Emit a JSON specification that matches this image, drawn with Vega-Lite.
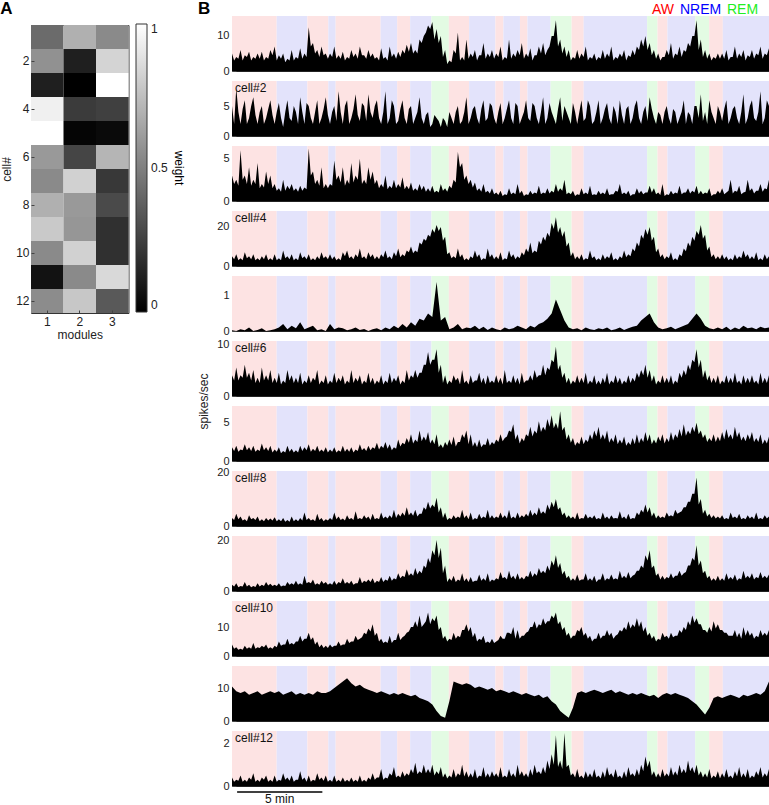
{
"$schema":"https://vega.github.io/schema/vega-lite/v6.json",
"padding":0,
"background":"white",
"datasets":{
"weights":[{"cell":1,"module":1,"w":0.42},{"cell":1,"module":2,"w":0.69},{"cell":1,"module":3,"w":0.54},{"cell":2,"module":1,"w":0.57},{"cell":2,"module":2,"w":0.12},{"cell":2,"module":3,"w":0.83},{"cell":3,"module":1,"w":0.12},{"cell":3,"module":2,"w":0.0},{"cell":3,"module":3,"w":1.0},{"cell":4,"module":1,"w":0.94},{"cell":4,"module":2,"w":0.23},{"cell":4,"module":3,"w":0.25},{"cell":5,"module":1,"w":1.0},{"cell":5,"module":2,"w":0.02},{"cell":5,"module":3,"w":0.04},{"cell":6,"module":1,"w":0.6},{"cell":6,"module":2,"w":0.27},{"cell":6,"module":3,"w":0.71},{"cell":7,"module":1,"w":0.54},{"cell":7,"module":2,"w":0.82},{"cell":7,"module":3,"w":0.22},{"cell":8,"module":1,"w":0.69},{"cell":8,"module":2,"w":0.6},{"cell":8,"module":3,"w":0.29},{"cell":9,"module":1,"w":0.79},{"cell":9,"module":2,"w":0.59},{"cell":9,"module":3,"w":0.19},{"cell":10,"module":1,"w":0.54},{"cell":10,"module":2,"w":0.82},{"cell":10,"module":3,"w":0.19},{"cell":11,"module":1,"w":0.07},{"cell":11,"module":2,"w":0.54},{"cell":11,"module":3,"w":0.85},{"cell":12,"module":1,"w":0.55},{"cell":12,"module":2,"w":0.78},{"cell":12,"module":3,"w":0.35}],
"states":[{"s":0,"e":2.62,"state":"AW"},{"s":2.62,"e":4.42,"state":"NREM"},{"s":4.42,"e":5.65,"state":"AW"},{"s":5.65,"e":6.08,"state":"NREM"},{"s":6.08,"e":8.72,"state":"AW"},{"s":8.72,"e":9.69,"state":"NREM"},{"s":9.69,"e":10.45,"state":"AW"},{"s":10.45,"e":11.7,"state":"NREM"},{"s":11.7,"e":12.72,"state":"REM"},{"s":12.72,"e":13.91,"state":"AW"},{"s":13.91,"e":15.45,"state":"NREM"},{"s":15.45,"e":15.92,"state":"AW"},{"s":15.92,"e":16.89,"state":"NREM"},{"s":16.89,"e":17.33,"state":"AW"},{"s":17.33,"e":18.69,"state":"NREM"},{"s":18.69,"e":19.92,"state":"REM"},{"s":19.92,"e":20.63,"state":"AW"},{"s":20.63,"e":24.35,"state":"NREM"},{"s":24.35,"e":24.96,"state":"REM"},{"s":24.96,"e":25.54,"state":"AW"},{"s":25.54,"e":27.17,"state":"NREM"},{"s":27.17,"e":27.99,"state":"REM"},{"s":27.99,"e":28.79,"state":"AW"},{"s":28.79,"e":31.5,"state":"NREM"}],
"c1":[{"t":0,"v":5},{"t":0.125,"v":3},{"t":0.25,"v":4},{"t":0.375,"v":3.5},{"t":0.5,"v":6},{"t":0.625,"v":3},{"t":0.75,"v":4.5},{"t":0.875,"v":4},{"t":1,"v":5.5},{"t":1.125,"v":3},{"t":1.25,"v":4},{"t":1.375,"v":3.5},{"t":1.5,"v":5},{"t":1.625,"v":3.5},{"t":1.75,"v":5.5},{"t":1.875,"v":3},{"t":2,"v":4},{"t":2.125,"v":3.5},{"t":2.25,"v":6},{"t":2.375,"v":4.5},{"t":2.5,"v":7},{"t":2.625,"v":3},{"t":2.75,"v":4.5},{"t":2.875,"v":3.5},{"t":3,"v":5},{"t":3.125,"v":2.5},{"t":3.25,"v":3.5},{"t":3.375,"v":3},{"t":3.5,"v":6},{"t":3.625,"v":3},{"t":3.75,"v":4},{"t":3.875,"v":3.5},{"t":4,"v":6.5},{"t":4.125,"v":3.5},{"t":4.25,"v":5},{"t":4.375,"v":4},{"t":4.5,"v":12.5},{"t":4.625,"v":7},{"t":4.75,"v":8},{"t":4.875,"v":5},{"t":5,"v":6},{"t":5.125,"v":4},{"t":5.25,"v":7},{"t":5.375,"v":4.5},{"t":5.5,"v":5},{"t":5.625,"v":3.5},{"t":5.75,"v":5},{"t":5.875,"v":4},{"t":6,"v":7},{"t":6.125,"v":3.5},{"t":6.25,"v":4.5},{"t":6.375,"v":3.5},{"t":6.5,"v":5.5},{"t":6.625,"v":3},{"t":6.75,"v":4},{"t":6.875,"v":3.5},{"t":7,"v":6},{"t":7.125,"v":4},{"t":7.25,"v":5},{"t":7.375,"v":3.5},{"t":7.5,"v":7},{"t":7.625,"v":4.5},{"t":7.75,"v":4.5},{"t":7.875,"v":3.5},{"t":8,"v":6},{"t":8.125,"v":4},{"t":8.25,"v":5},{"t":8.375,"v":3.5},{"t":8.5,"v":4},{"t":8.625,"v":3},{"t":8.75,"v":6.5},{"t":8.875,"v":3.5},{"t":9,"v":4},{"t":9.125,"v":3},{"t":9.25,"v":7},{"t":9.375,"v":4},{"t":9.5,"v":5},{"t":9.625,"v":3.5},{"t":9.75,"v":5.5},{"t":9.875,"v":4},{"t":10,"v":6},{"t":10.125,"v":5},{"t":10.25,"v":7.5},{"t":10.375,"v":5.5},{"t":10.5,"v":8},{"t":10.625,"v":5},{"t":10.75,"v":6},{"t":10.875,"v":5},{"t":11,"v":9},{"t":11.125,"v":8},{"t":11.25,"v":10},{"t":11.375,"v":11},{"t":11.5,"v":13},{"t":11.625,"v":12},{"t":11.75,"v":14},{"t":11.875,"v":9},{"t":12,"v":12},{"t":12.125,"v":8},{"t":12.25,"v":10},{"t":12.375,"v":4},{"t":12.5,"v":6},{"t":12.625,"v":2},{"t":12.75,"v":3},{"t":12.875,"v":2.5},{"t":13,"v":6},{"t":13.125,"v":5},{"t":13.25,"v":11},{"t":13.375,"v":3},{"t":13.5,"v":4},{"t":13.625,"v":3},{"t":13.75,"v":9},{"t":13.875,"v":3.5},{"t":14,"v":5},{"t":14.125,"v":4},{"t":14.25,"v":6},{"t":14.375,"v":3},{"t":14.5,"v":4.5},{"t":14.625,"v":4.5},{"t":14.75,"v":8},{"t":14.875,"v":3.5},{"t":15,"v":5},{"t":15.125,"v":4},{"t":15.25,"v":6},{"t":15.375,"v":3.5},{"t":15.5,"v":5},{"t":15.625,"v":4},{"t":15.75,"v":7},{"t":15.875,"v":3},{"t":16,"v":4},{"t":16.125,"v":3.5},{"t":16.25,"v":9},{"t":16.375,"v":3.5},{"t":16.5,"v":5},{"t":16.625,"v":4},{"t":16.75,"v":6},{"t":16.875,"v":4.5},{"t":17,"v":8},{"t":17.125,"v":3.5},{"t":17.25,"v":5},{"t":17.375,"v":4},{"t":17.5,"v":6.5},{"t":17.625,"v":3},{"t":17.75,"v":4.5},{"t":17.875,"v":4.5},{"t":18,"v":7},{"t":18.125,"v":5},{"t":18.25,"v":8},{"t":18.375,"v":4.5},{"t":18.5,"v":6},{"t":18.625,"v":7},{"t":18.75,"v":10},{"t":18.875,"v":10},{"t":19,"v":14.5},{"t":19.125,"v":7},{"t":19.25,"v":9},{"t":19.375,"v":5},{"t":19.5,"v":7},{"t":19.625,"v":4},{"t":19.75,"v":6},{"t":19.875,"v":3},{"t":20,"v":4},{"t":20.125,"v":3.5},{"t":20.25,"v":6},{"t":20.375,"v":3.5},{"t":20.5,"v":5},{"t":20.625,"v":4},{"t":20.75,"v":7},{"t":20.875,"v":3},{"t":21,"v":4},{"t":21.125,"v":3.5},{"t":21.25,"v":5},{"t":21.375,"v":3},{"t":21.5,"v":4},{"t":21.625,"v":3.5},{"t":21.75,"v":6},{"t":21.875,"v":3.5},{"t":22,"v":5},{"t":22.125,"v":4},{"t":22.25,"v":7},{"t":22.375,"v":3},{"t":22.5,"v":4},{"t":22.625,"v":3.5},{"t":22.75,"v":5},{"t":22.875,"v":4},{"t":23,"v":6},{"t":23.125,"v":3},{"t":23.25,"v":4.5},{"t":23.375,"v":4},{"t":23.5,"v":6},{"t":23.625,"v":4.5},{"t":23.75,"v":7},{"t":23.875,"v":6},{"t":24,"v":9},{"t":24.125,"v":7},{"t":24.25,"v":10},{"t":24.375,"v":6},{"t":24.5,"v":8},{"t":24.625,"v":4.5},{"t":24.75,"v":6},{"t":24.875,"v":3.5},{"t":25,"v":5},{"t":25.125,"v":3},{"t":25.25,"v":4},{"t":25.375,"v":4},{"t":25.5,"v":6},{"t":25.625,"v":4.5},{"t":25.75,"v":8},{"t":25.875,"v":3.5},{"t":26,"v":5},{"t":26.125,"v":4.5},{"t":26.25,"v":7},{"t":26.375,"v":4},{"t":26.5,"v":6},{"t":26.625,"v":5.5},{"t":26.75,"v":8},{"t":26.875,"v":7},{"t":27,"v":10},{"t":27.125,"v":10},{"t":27.25,"v":14.5},{"t":27.375,"v":6},{"t":27.5,"v":9},{"t":27.625,"v":4},{"t":27.75,"v":6},{"t":27.875,"v":3.5},{"t":28,"v":5},{"t":28.125,"v":3},{"t":28.25,"v":4},{"t":28.375,"v":3.5},{"t":28.5,"v":5},{"t":28.625,"v":3.5},{"t":28.75,"v":5},{"t":28.875,"v":3.5},{"t":29,"v":6},{"t":29.125,"v":3},{"t":29.25,"v":4},{"t":29.375,"v":4},{"t":29.5,"v":7},{"t":29.625,"v":3.5},{"t":29.75,"v":5},{"t":29.875,"v":4},{"t":30,"v":6},{"t":30.125,"v":3},{"t":30.25,"v":4.5},{"t":30.375,"v":4},{"t":30.5,"v":6},{"t":30.625,"v":3.5},{"t":30.75,"v":5},{"t":30.875,"v":4.5},{"t":31,"v":7},{"t":31.125,"v":3.5},{"t":31.25,"v":5},{"t":31.375,"v":4.5},{"t":31.5,"v":6.5}],
"c2":[{"t":0,"v":5},{"t":0.125,"v":2},{"t":0.25,"v":8},{"t":0.375,"v":4},{"t":0.5,"v":2},{"t":0.625,"v":4.5},{"t":0.75,"v":6},{"t":0.875,"v":2},{"t":1,"v":3},{"t":1.125,"v":5},{"t":1.25,"v":6.5},{"t":1.375,"v":3.5},{"t":1.5,"v":2},{"t":1.625,"v":4},{"t":1.75,"v":5},{"t":1.875,"v":2},{"t":2,"v":3},{"t":2.125,"v":4.5},{"t":2.25,"v":6},{"t":2.375,"v":3.5},{"t":2.5,"v":2},{"t":2.625,"v":4},{"t":2.75,"v":5.5},{"t":2.875,"v":3},{"t":3,"v":1.5},{"t":3.125,"v":4},{"t":3.25,"v":6},{"t":3.375,"v":3},{"t":3.5,"v":2.5},{"t":3.625,"v":5},{"t":3.75,"v":4},{"t":3.875,"v":2},{"t":4,"v":6.5},{"t":4.125,"v":4},{"t":4.25,"v":2},{"t":4.375,"v":5.5},{"t":4.5,"v":5},{"t":4.625,"v":3},{"t":4.75,"v":2},{"t":4.875,"v":4},{"t":5,"v":6},{"t":5.125,"v":2},{"t":5.25,"v":3},{"t":5.375,"v":4.5},{"t":5.5,"v":6.5},{"t":5.625,"v":3.5},{"t":5.75,"v":2},{"t":5.875,"v":4},{"t":6,"v":5},{"t":6.125,"v":2.5},{"t":6.25,"v":7.5},{"t":6.375,"v":4},{"t":6.5,"v":2},{"t":6.625,"v":5},{"t":6.75,"v":6},{"t":6.875,"v":2},{"t":7,"v":3},{"t":7.125,"v":4.5},{"t":7.25,"v":7},{"t":7.375,"v":3.5},{"t":7.5,"v":2.5},{"t":7.625,"v":5.5},{"t":7.75,"v":5},{"t":7.875,"v":2.5},{"t":8,"v":7},{"t":8.125,"v":4},{"t":8.25,"v":3},{"t":8.375,"v":5},{"t":8.5,"v":6},{"t":8.625,"v":3},{"t":8.75,"v":2},{"t":8.875,"v":4},{"t":9,"v":7.5},{"t":9.125,"v":2},{"t":9.25,"v":3},{"t":9.375,"v":6},{"t":9.5,"v":5},{"t":9.625,"v":2},{"t":9.75,"v":2.5},{"t":9.875,"v":4.5},{"t":10,"v":6},{"t":10.125,"v":3},{"t":10.25,"v":2},{"t":10.375,"v":4.5},{"t":10.5,"v":5},{"t":10.625,"v":2},{"t":10.75,"v":3},{"t":10.875,"v":4},{"t":11,"v":6.5},{"t":11.125,"v":3},{"t":11.25,"v":2},{"t":11.375,"v":3.5},{"t":11.5,"v":4},{"t":11.625,"v":1.5},{"t":11.75,"v":2},{"t":11.875,"v":3.5},{"t":12,"v":3},{"t":12.125,"v":2.5},{"t":12.25,"v":1.5},{"t":12.375,"v":3},{"t":12.5,"v":2.5},{"t":12.625,"v":1.5},{"t":12.75,"v":4},{"t":12.875,"v":3},{"t":13,"v":2},{"t":13.125,"v":4},{"t":13.25,"v":5},{"t":13.375,"v":2},{"t":13.5,"v":2.5},{"t":13.625,"v":4},{"t":13.75,"v":6.5},{"t":13.875,"v":2},{"t":14,"v":3},{"t":14.125,"v":4.5},{"t":14.25,"v":5},{"t":14.375,"v":3},{"t":14.5,"v":2},{"t":14.625,"v":4.5},{"t":14.75,"v":6},{"t":14.875,"v":2.5},{"t":15,"v":3},{"t":15.125,"v":5.5},{"t":15.25,"v":5},{"t":15.375,"v":3},{"t":15.5,"v":2},{"t":15.625,"v":4},{"t":15.75,"v":5.5},{"t":15.875,"v":2},{"t":16,"v":3},{"t":16.125,"v":4.5},{"t":16.25,"v":6},{"t":16.375,"v":3},{"t":16.5,"v":2},{"t":16.625,"v":5.5},{"t":16.75,"v":5},{"t":16.875,"v":2},{"t":17,"v":3},{"t":17.125,"v":4},{"t":17.25,"v":6},{"t":17.375,"v":3},{"t":17.5,"v":2.5},{"t":17.625,"v":5.5},{"t":17.75,"v":5},{"t":17.875,"v":3},{"t":18,"v":2},{"t":18.125,"v":4},{"t":18.25,"v":6.5},{"t":18.375,"v":2},{"t":18.5,"v":3},{"t":18.625,"v":5.5},{"t":18.75,"v":4},{"t":18.875,"v":3},{"t":19,"v":2},{"t":19.125,"v":4.5},{"t":19.25,"v":6.5},{"t":19.375,"v":2.5},{"t":19.5,"v":5},{"t":19.625,"v":4},{"t":19.75,"v":3},{"t":19.875,"v":2},{"t":20,"v":5.5},{"t":20.125,"v":4},{"t":20.25,"v":2},{"t":20.375,"v":4},{"t":20.5,"v":6},{"t":20.625,"v":2.5},{"t":20.75,"v":3},{"t":20.875,"v":6},{"t":21,"v":5},{"t":21.125,"v":2},{"t":21.25,"v":2.5},{"t":21.375,"v":4},{"t":21.5,"v":6},{"t":21.625,"v":2},{"t":21.75,"v":3},{"t":21.875,"v":4.5},{"t":22,"v":5.5},{"t":22.125,"v":3},{"t":22.25,"v":2},{"t":22.375,"v":5},{"t":22.5,"v":4},{"t":22.625,"v":2},{"t":22.75,"v":6},{"t":22.875,"v":3.5},{"t":23,"v":2},{"t":23.125,"v":4.5},{"t":23.25,"v":5},{"t":23.375,"v":2},{"t":23.5,"v":3},{"t":23.625,"v":5},{"t":23.75,"v":6},{"t":23.875,"v":3},{"t":24,"v":2},{"t":24.125,"v":4},{"t":24.25,"v":5},{"t":24.375,"v":2.5},{"t":24.5,"v":6.5},{"t":24.625,"v":4.5},{"t":24.75,"v":3},{"t":24.875,"v":2},{"t":25,"v":4},{"t":25.125,"v":3.5},{"t":25.25,"v":2},{"t":25.375,"v":4},{"t":25.5,"v":5},{"t":25.625,"v":3},{"t":25.75,"v":2},{"t":25.875,"v":4.5},{"t":26,"v":4},{"t":26.125,"v":2},{"t":26.25,"v":3},{"t":26.375,"v":4},{"t":26.5,"v":6},{"t":26.625,"v":2},{"t":26.75,"v":4},{"t":26.875,"v":3.5},{"t":27,"v":2},{"t":27.125,"v":5},{"t":27.25,"v":5},{"t":27.375,"v":3},{"t":27.5,"v":7},{"t":27.625,"v":2.5},{"t":27.75,"v":4},{"t":27.875,"v":2},{"t":28,"v":6},{"t":28.125,"v":4},{"t":28.25,"v":3},{"t":28.375,"v":2},{"t":28.5,"v":5},{"t":28.625,"v":4},{"t":28.75,"v":2.5},{"t":28.875,"v":4.5},{"t":29,"v":6},{"t":29.125,"v":2},{"t":29.25,"v":3},{"t":29.375,"v":4.5},{"t":29.5,"v":5},{"t":29.625,"v":3},{"t":29.75,"v":2},{"t":29.875,"v":4},{"t":30,"v":7},{"t":30.125,"v":2},{"t":30.25,"v":3},{"t":30.375,"v":5},{"t":30.5,"v":6},{"t":30.625,"v":3},{"t":30.75,"v":2.5},{"t":30.875,"v":4},{"t":31,"v":7.5},{"t":31.125,"v":2},{"t":31.25,"v":3},{"t":31.375,"v":6},{"t":31.5,"v":5}],
"c3":[{"t":0,"v":3},{"t":0.125,"v":2},{"t":0.25,"v":2.5},{"t":0.375,"v":1.8},{"t":0.5,"v":6},{"t":0.625,"v":2.5},{"t":0.75,"v":3},{"t":0.875,"v":2},{"t":1,"v":4},{"t":1.125,"v":1.8},{"t":1.25,"v":2.5},{"t":1.375,"v":2},{"t":1.5,"v":4.5},{"t":1.625,"v":1.5},{"t":1.75,"v":2},{"t":1.875,"v":1.6},{"t":2,"v":3.5},{"t":2.125,"v":2},{"t":2.25,"v":3},{"t":2.375,"v":1.5},{"t":2.5,"v":2},{"t":2.625,"v":1.2},{"t":2.75,"v":1.5},{"t":2.875,"v":1.1},{"t":3,"v":2.5},{"t":3.125,"v":1.2},{"t":3.25,"v":1.8},{"t":3.375,"v":1.4},{"t":3.5,"v":2},{"t":3.625,"v":1.2},{"t":3.75,"v":1.5},{"t":3.875,"v":1.1},{"t":4,"v":1.8},{"t":4.125,"v":1.2},{"t":4.25,"v":1.6},{"t":4.375,"v":1.4},{"t":4.5,"v":6.2},{"t":4.625,"v":3},{"t":4.75,"v":3.5},{"t":4.875,"v":2},{"t":5,"v":2.5},{"t":5.125,"v":1.8},{"t":5.25,"v":4},{"t":5.375,"v":1.5},{"t":5.5,"v":2},{"t":5.625,"v":1.5},{"t":5.75,"v":2},{"t":5.875,"v":1.8},{"t":6,"v":4.8},{"t":6.125,"v":2.5},{"t":6.25,"v":3},{"t":6.375,"v":2.2},{"t":6.5,"v":4},{"t":6.625,"v":1.8},{"t":6.75,"v":2.5},{"t":6.875,"v":2},{"t":7,"v":4.5},{"t":7.125,"v":2.2},{"t":7.25,"v":3},{"t":7.375,"v":2.5},{"t":7.5,"v":5},{"t":7.625,"v":2},{"t":7.75,"v":2.5},{"t":7.875,"v":2},{"t":8,"v":4},{"t":8.125,"v":2.5},{"t":8.25,"v":3.5},{"t":8.375,"v":2},{"t":8.5,"v":2.5},{"t":8.625,"v":1.5},{"t":8.75,"v":2},{"t":8.875,"v":1.6},{"t":9,"v":3},{"t":9.125,"v":1.4},{"t":9.25,"v":1.8},{"t":9.375,"v":1.5},{"t":9.5,"v":2.5},{"t":9.625,"v":1.5},{"t":9.75,"v":2},{"t":9.875,"v":1.6},{"t":10,"v":2.8},{"t":10.125,"v":1.4},{"t":10.25,"v":1.8},{"t":10.375,"v":1.4},{"t":10.5,"v":2.2},{"t":10.625,"v":1.2},{"t":10.75,"v":1.5},{"t":10.875,"v":1.2},{"t":11,"v":2},{"t":11.125,"v":1.3},{"t":11.25,"v":1.8},{"t":11.375,"v":1.1},{"t":11.5,"v":1.5},{"t":11.625,"v":1.1},{"t":11.75,"v":1.8},{"t":11.875,"v":1},{"t":12,"v":1.2},{"t":12.125,"v":1},{"t":12.25,"v":2},{"t":12.375,"v":1.2},{"t":12.5,"v":1.5},{"t":12.625,"v":1.1},{"t":12.75,"v":1.8},{"t":12.875,"v":1.5},{"t":13,"v":2.5},{"t":13.125,"v":2.2},{"t":13.25,"v":5.8},{"t":13.375,"v":4},{"t":13.5,"v":4.5},{"t":13.625,"v":2.5},{"t":13.75,"v":3},{"t":13.875,"v":2},{"t":14,"v":2.5},{"t":14.125,"v":1.6},{"t":14.25,"v":2.2},{"t":14.375,"v":1.2},{"t":14.5,"v":1.5},{"t":14.625,"v":1.1},{"t":14.75,"v":2},{"t":14.875,"v":1},{"t":15,"v":1.2},{"t":15.125,"v":0.9},{"t":15.25,"v":1.5},{"t":15.375,"v":0.8},{"t":15.5,"v":1},{"t":15.625,"v":0.7},{"t":15.75,"v":1.2},{"t":15.875,"v":0.6},{"t":16,"v":0.8},{"t":16.125,"v":0.7},{"t":16.25,"v":1.5},{"t":16.375,"v":0.8},{"t":16.5,"v":1},{"t":16.625,"v":0.8},{"t":16.75,"v":2},{"t":16.875,"v":0.9},{"t":17,"v":1.2},{"t":17.125,"v":0.6},{"t":17.25,"v":0.8},{"t":17.375,"v":0.7},{"t":17.5,"v":1.2},{"t":17.625,"v":0.8},{"t":17.75,"v":1},{"t":17.875,"v":0.9},{"t":18,"v":1.8},{"t":18.125,"v":0.8},{"t":18.25,"v":1},{"t":18.375,"v":0.9},{"t":18.5,"v":1.5},{"t":18.625,"v":0.9},{"t":18.75,"v":1.2},{"t":18.875,"v":1},{"t":19,"v":2},{"t":19.125,"v":1.1},{"t":19.25,"v":1.5},{"t":19.375,"v":1.2},{"t":19.5,"v":2.5},{"t":19.625,"v":0.8},{"t":19.75,"v":1},{"t":19.875,"v":0.8},{"t":20,"v":1.2},{"t":20.125,"v":0.6},{"t":20.25,"v":0.8},{"t":20.375,"v":0.7},{"t":20.5,"v":1.5},{"t":20.625,"v":0.8},{"t":20.75,"v":1},{"t":20.875,"v":0.8},{"t":21,"v":1.8},{"t":21.125,"v":0.7},{"t":21.25,"v":0.8},{"t":21.375,"v":0.7},{"t":21.5,"v":1.2},{"t":21.625,"v":0.8},{"t":21.75,"v":1},{"t":21.875,"v":0.8},{"t":22,"v":1.5},{"t":22.125,"v":0.7},{"t":22.25,"v":0.8},{"t":22.375,"v":0.8},{"t":22.5,"v":1.2},{"t":22.625,"v":1.1},{"t":22.75,"v":2},{"t":22.875,"v":0.8},{"t":23,"v":1},{"t":23.125,"v":0.8},{"t":23.25,"v":1.2},{"t":23.375,"v":0.6},{"t":23.5,"v":0.8},{"t":23.625,"v":0.8},{"t":23.75,"v":1.5},{"t":23.875,"v":0.9},{"t":24,"v":1.2},{"t":24.125,"v":0.8},{"t":24.25,"v":1},{"t":24.375,"v":1},{"t":24.5,"v":1.8},{"t":24.625,"v":1},{"t":24.75,"v":1.5},{"t":24.875,"v":0.8},{"t":25,"v":1},{"t":25.125,"v":0.7},{"t":25.25,"v":2},{"t":25.375,"v":0.6},{"t":25.5,"v":0.8},{"t":25.625,"v":0.7},{"t":25.75,"v":1.2},{"t":25.875,"v":0.8},{"t":26,"v":1},{"t":26.125,"v":0.9},{"t":26.25,"v":1.8},{"t":26.375,"v":0.8},{"t":26.5,"v":1},{"t":26.625,"v":1},{"t":26.75,"v":1.5},{"t":26.875,"v":0.9},{"t":27,"v":1.2},{"t":27.125,"v":1},{"t":27.25,"v":1.8},{"t":27.375,"v":0.8},{"t":27.5,"v":1.2},{"t":27.625,"v":0.8},{"t":27.75,"v":1},{"t":27.875,"v":0.9},{"t":28,"v":1.5},{"t":28.125,"v":0.6},{"t":28.25,"v":0.8},{"t":28.375,"v":0.8},{"t":28.5,"v":1.2},{"t":28.625,"v":0.9},{"t":28.75,"v":1.5},{"t":28.875,"v":0.8},{"t":29,"v":1},{"t":29.125,"v":1.2},{"t":29.25,"v":2.5},{"t":29.375,"v":0.9},{"t":29.5,"v":1.2},{"t":29.625,"v":1.1},{"t":29.75,"v":1.8},{"t":29.875,"v":0.8},{"t":30,"v":1},{"t":30.125,"v":1.1},{"t":30.25,"v":2.5},{"t":30.375,"v":1.2},{"t":30.5,"v":1.5},{"t":30.625,"v":0.9},{"t":30.75,"v":1.2},{"t":30.875,"v":1.2},{"t":31,"v":2},{"t":31.125,"v":1.1},{"t":31.25,"v":1.5},{"t":31.375,"v":1.4},{"t":31.5,"v":2.5}],
"c4":[{"t":0,"v":5},{"t":0.125,"v":3.5},{"t":0.25,"v":6},{"t":0.375,"v":3},{"t":0.5,"v":4},{"t":0.625,"v":3},{"t":0.75,"v":7},{"t":0.875,"v":4},{"t":1,"v":5},{"t":1.125,"v":3.5},{"t":1.25,"v":6},{"t":1.375,"v":3},{"t":1.5,"v":4},{"t":1.625,"v":3},{"t":1.75,"v":5},{"t":1.875,"v":3.5},{"t":2,"v":6},{"t":2.125,"v":3},{"t":2.25,"v":4},{"t":2.375,"v":3},{"t":2.5,"v":6},{"t":2.625,"v":3},{"t":2.75,"v":4},{"t":2.875,"v":3},{"t":3,"v":8},{"t":3.125,"v":4},{"t":3.25,"v":5},{"t":3.375,"v":3.5},{"t":3.5,"v":6},{"t":3.625,"v":3},{"t":3.75,"v":4},{"t":3.875,"v":3},{"t":4,"v":7},{"t":4.125,"v":4},{"t":4.25,"v":5},{"t":4.375,"v":3.5},{"t":4.5,"v":6},{"t":4.625,"v":3},{"t":4.75,"v":4},{"t":4.875,"v":3},{"t":5,"v":5},{"t":5.125,"v":3.5},{"t":5.25,"v":7},{"t":5.375,"v":4},{"t":5.5,"v":5},{"t":5.625,"v":3.5},{"t":5.75,"v":6},{"t":5.875,"v":3.5},{"t":6,"v":5},{"t":6.125,"v":3},{"t":6.25,"v":4},{"t":6.375,"v":3},{"t":6.5,"v":7},{"t":6.625,"v":5},{"t":6.75,"v":8},{"t":6.875,"v":4},{"t":7,"v":5},{"t":7.125,"v":3.5},{"t":7.25,"v":6},{"t":7.375,"v":4.5},{"t":7.5,"v":9},{"t":7.625,"v":4},{"t":7.75,"v":5},{"t":7.875,"v":3.5},{"t":8,"v":7},{"t":8.125,"v":4.5},{"t":8.25,"v":6},{"t":8.375,"v":3.5},{"t":8.5,"v":5},{"t":8.625,"v":3.5},{"t":8.75,"v":6},{"t":8.875,"v":4.5},{"t":9,"v":8},{"t":9.125,"v":4},{"t":9.25,"v":5},{"t":9.375,"v":3.5},{"t":9.5,"v":7},{"t":9.625,"v":5},{"t":9.75,"v":9},{"t":9.875,"v":4.5},{"t":10,"v":6},{"t":10.125,"v":5},{"t":10.25,"v":8},{"t":10.375,"v":7},{"t":10.5,"v":10},{"t":10.625,"v":6.5},{"t":10.75,"v":8},{"t":10.875,"v":7},{"t":11,"v":12},{"t":11.125,"v":11},{"t":11.25,"v":14},{"t":11.375,"v":13},{"t":11.5,"v":16},{"t":11.625,"v":15},{"t":11.75,"v":19},{"t":11.875,"v":17},{"t":12,"v":21},{"t":12.125,"v":18},{"t":12.25,"v":20},{"t":12.375,"v":13},{"t":12.5,"v":15},{"t":12.625,"v":6},{"t":12.75,"v":7},{"t":12.875,"v":4},{"t":13,"v":5},{"t":13.125,"v":4},{"t":13.25,"v":9},{"t":13.375,"v":4.5},{"t":13.5,"v":6},{"t":13.625,"v":3},{"t":13.75,"v":4},{"t":13.875,"v":3},{"t":14,"v":5},{"t":14.125,"v":4},{"t":14.25,"v":8},{"t":14.375,"v":4.5},{"t":14.5,"v":6},{"t":14.625,"v":3},{"t":14.75,"v":4},{"t":14.875,"v":3.5},{"t":15,"v":9},{"t":15.125,"v":4.5},{"t":15.25,"v":6},{"t":15.375,"v":3.5},{"t":15.5,"v":5},{"t":15.625,"v":3.5},{"t":15.75,"v":7},{"t":15.875,"v":3},{"t":16,"v":4},{"t":16.125,"v":3.5},{"t":16.25,"v":8},{"t":16.375,"v":4.5},{"t":16.5,"v":6},{"t":16.625,"v":3.5},{"t":16.75,"v":5},{"t":16.875,"v":4},{"t":17,"v":7},{"t":17.125,"v":5.5},{"t":17.25,"v":9},{"t":17.375,"v":7},{"t":17.5,"v":12},{"t":17.625,"v":6.5},{"t":17.75,"v":8},{"t":17.875,"v":7},{"t":18,"v":13},{"t":18.125,"v":11},{"t":18.25,"v":15},{"t":18.375,"v":13},{"t":18.5,"v":17},{"t":18.625,"v":15},{"t":18.75,"v":22},{"t":18.875,"v":19},{"t":19,"v":25},{"t":19.125,"v":17},{"t":19.25,"v":20},{"t":19.375,"v":15},{"t":19.5,"v":18},{"t":19.625,"v":10},{"t":19.75,"v":12},{"t":19.875,"v":5},{"t":20,"v":7},{"t":20.125,"v":3.5},{"t":20.25,"v":5},{"t":20.375,"v":3.5},{"t":20.5,"v":6},{"t":20.625,"v":3},{"t":20.75,"v":4},{"t":20.875,"v":3.5},{"t":21,"v":8},{"t":21.125,"v":4},{"t":21.25,"v":5},{"t":21.375,"v":3},{"t":21.5,"v":4},{"t":21.625,"v":3},{"t":21.75,"v":6},{"t":21.875,"v":3.5},{"t":22,"v":5},{"t":22.125,"v":4},{"t":22.25,"v":7},{"t":22.375,"v":3},{"t":22.5,"v":4},{"t":22.625,"v":3},{"t":22.75,"v":5},{"t":22.875,"v":4},{"t":23,"v":8},{"t":23.125,"v":4.5},{"t":23.25,"v":6},{"t":23.375,"v":5},{"t":23.5,"v":9},{"t":23.625,"v":7.5},{"t":23.75,"v":12},{"t":23.875,"v":10},{"t":24,"v":16},{"t":24.125,"v":14},{"t":24.25,"v":19},{"t":24.375,"v":16},{"t":24.5,"v":20},{"t":24.625,"v":13},{"t":24.75,"v":15},{"t":24.875,"v":7},{"t":25,"v":9},{"t":25.125,"v":4.5},{"t":25.25,"v":6},{"t":25.375,"v":3.5},{"t":25.5,"v":5},{"t":25.625,"v":4},{"t":25.75,"v":7},{"t":25.875,"v":3},{"t":26,"v":4},{"t":26.125,"v":3},{"t":26.25,"v":6},{"t":26.375,"v":5},{"t":26.5,"v":9},{"t":26.625,"v":7.5},{"t":26.75,"v":12},{"t":26.875,"v":10},{"t":27,"v":15},{"t":27.125,"v":13},{"t":27.25,"v":18},{"t":27.375,"v":16},{"t":27.5,"v":21},{"t":27.625,"v":14},{"t":27.75,"v":16},{"t":27.875,"v":8},{"t":28,"v":10},{"t":28.125,"v":4.5},{"t":28.25,"v":6},{"t":28.375,"v":3.5},{"t":28.5,"v":5},{"t":28.625,"v":3.5},{"t":28.75,"v":6},{"t":28.875,"v":3.5},{"t":29,"v":5},{"t":29.125,"v":3},{"t":29.25,"v":4},{"t":29.375,"v":3},{"t":29.5,"v":6},{"t":29.625,"v":3.5},{"t":29.75,"v":5},{"t":29.875,"v":4},{"t":30,"v":8},{"t":30.125,"v":4.5},{"t":30.25,"v":6},{"t":30.375,"v":3.5},{"t":30.5,"v":5},{"t":30.625,"v":3.5},{"t":30.75,"v":7},{"t":30.875,"v":3},{"t":31,"v":4},{"t":31.125,"v":3},{"t":31.25,"v":6},{"t":31.375,"v":3.5},{"t":31.5,"v":5}],
"c5":[{"t":0,"v":0.02},{"t":0.25,"v":0},{"t":0.5,"v":0.05},{"t":0.75,"v":0.02},{"t":1,"v":0.1},{"t":1.25,"v":0},{"t":1.5,"v":0.03},{"t":1.75,"v":0.08},{"t":2,"v":0},{"t":2.25,"v":0.02},{"t":2.5,"v":0.05},{"t":2.75,"v":0.1},{"t":3,"v":0.2},{"t":3.25,"v":0.05},{"t":3.5,"v":0.15},{"t":3.75,"v":0.08},{"t":4,"v":0.25},{"t":4.25,"v":0.05},{"t":4.5,"v":0.1},{"t":4.75,"v":0.15},{"t":5,"v":0.02},{"t":5.25,"v":0.05},{"t":5.5,"v":0},{"t":5.75,"v":0.2},{"t":6,"v":0.05},{"t":6.25,"v":0.1},{"t":6.5,"v":0.08},{"t":6.75,"v":0.02},{"t":7,"v":0.05},{"t":7.25,"v":0.1},{"t":7.5,"v":0.03},{"t":7.75,"v":0.06},{"t":8,"v":0},{"t":8.25,"v":0.05},{"t":8.5,"v":0.08},{"t":8.75,"v":0.02},{"t":9,"v":0.1},{"t":9.25,"v":0.05},{"t":9.5,"v":0.15},{"t":9.75,"v":0.08},{"t":10,"v":0.2},{"t":10.25,"v":0.1},{"t":10.5,"v":0.25},{"t":10.75,"v":0.15},{"t":11,"v":0.35},{"t":11.25,"v":0.3},{"t":11.5,"v":0.5},{"t":11.75,"v":0.4},{"t":12,"v":1.4},{"t":12.25,"v":0.3},{"t":12.5,"v":0.4},{"t":12.75,"v":0.05},{"t":13,"v":0.1},{"t":13.25,"v":0.2},{"t":13.5,"v":0.05},{"t":13.75,"v":0.1},{"t":14,"v":0.08},{"t":14.25,"v":0.15},{"t":14.5,"v":0.05},{"t":14.75,"v":0.12},{"t":15,"v":0.03},{"t":15.25,"v":0.1},{"t":15.5,"v":0.05},{"t":15.75,"v":0.02},{"t":16,"v":0.1},{"t":16.25,"v":0.05},{"t":16.5,"v":0.08},{"t":16.75,"v":0.15},{"t":17,"v":0.1},{"t":17.25,"v":0.05},{"t":17.5,"v":0.15},{"t":17.75,"v":0.1},{"t":18,"v":0.2},{"t":18.25,"v":0.25},{"t":18.5,"v":0.35},{"t":18.75,"v":0.5},{"t":19,"v":0.9},{"t":19.25,"v":0.6},{"t":19.5,"v":0.3},{"t":19.75,"v":0.1},{"t":20,"v":0.05},{"t":20.25,"v":0.08},{"t":20.5,"v":0.02},{"t":20.75,"v":0.1},{"t":21,"v":0.05},{"t":21.25,"v":0.03},{"t":21.5,"v":0.08},{"t":21.75,"v":0.05},{"t":22,"v":0.1},{"t":22.25,"v":0.02},{"t":22.5,"v":0.05},{"t":22.75,"v":0.1},{"t":23,"v":0.03},{"t":23.25,"v":0.08},{"t":23.5,"v":0.12},{"t":23.75,"v":0.15},{"t":24,"v":0.3},{"t":24.25,"v":0.4},{"t":24.5,"v":0.5},{"t":24.75,"v":0.25},{"t":25,"v":0.1},{"t":25.25,"v":0.05},{"t":25.5,"v":0.08},{"t":25.75,"v":0.12},{"t":26,"v":0.05},{"t":26.25,"v":0.1},{"t":26.5,"v":0.15},{"t":26.75,"v":0.2},{"t":27,"v":0.35},{"t":27.25,"v":0.5},{"t":27.5,"v":0.35},{"t":27.75,"v":0.15},{"t":28,"v":0.08},{"t":28.25,"v":0.05},{"t":28.5,"v":0.1},{"t":28.75,"v":0.05},{"t":29,"v":0.12},{"t":29.25,"v":0.03},{"t":29.5,"v":0.1},{"t":29.75,"v":0.05},{"t":30,"v":0.15},{"t":30.25,"v":0.08},{"t":30.5,"v":0.1},{"t":30.75,"v":0.05},{"t":31,"v":0.12},{"t":31.25,"v":0.08},{"t":31.5,"v":0.1}],
"c6":[{"t":0,"v":4},{"t":0.125,"v":3},{"t":0.25,"v":5.5},{"t":0.375,"v":3},{"t":0.5,"v":4},{"t":0.625,"v":3.5},{"t":0.75,"v":6},{"t":0.875,"v":3.5},{"t":1,"v":4.5},{"t":1.125,"v":3},{"t":1.25,"v":5},{"t":1.375,"v":2.5},{"t":1.5,"v":3.5},{"t":1.625,"v":2.5},{"t":1.75,"v":5.5},{"t":1.875,"v":3},{"t":2,"v":4},{"t":2.125,"v":3},{"t":2.25,"v":5},{"t":2.375,"v":2.5},{"t":2.5,"v":3.5},{"t":2.625,"v":2.5},{"t":2.75,"v":4.5},{"t":2.875,"v":2.2},{"t":3,"v":3},{"t":3.125,"v":2.5},{"t":3.25,"v":5},{"t":3.375,"v":3},{"t":3.5,"v":4},{"t":3.625,"v":2.5},{"t":3.75,"v":3.5},{"t":3.875,"v":2.5},{"t":4,"v":4.5},{"t":4.125,"v":2.2},{"t":4.25,"v":3},{"t":4.375,"v":2.5},{"t":4.5,"v":4},{"t":4.625,"v":2.5},{"t":4.75,"v":3.5},{"t":4.875,"v":3},{"t":5,"v":5},{"t":5.125,"v":2.2},{"t":5.25,"v":3},{"t":5.375,"v":2.5},{"t":5.5,"v":4},{"t":5.625,"v":2.2},{"t":5.75,"v":3},{"t":5.875,"v":2.5},{"t":6,"v":4.5},{"t":6.125,"v":2.5},{"t":6.25,"v":3.5},{"t":6.375,"v":2.8},{"t":6.5,"v":4},{"t":6.625,"v":2.2},{"t":6.75,"v":3},{"t":6.875,"v":2.5},{"t":7,"v":5},{"t":7.125,"v":2.5},{"t":7.25,"v":3.5},{"t":7.375,"v":2.8},{"t":7.5,"v":4},{"t":7.625,"v":2.2},{"t":7.75,"v":3},{"t":7.875,"v":2.5},{"t":8,"v":4.5},{"t":8.125,"v":2.5},{"t":8.25,"v":3.5},{"t":8.375,"v":2.2},{"t":8.5,"v":3},{"t":8.625,"v":2.5},{"t":8.75,"v":4},{"t":8.875,"v":2.2},{"t":9,"v":3},{"t":9.125,"v":2.5},{"t":9.25,"v":4.5},{"t":9.375,"v":2.5},{"t":9.5,"v":3.5},{"t":9.625,"v":2.8},{"t":9.75,"v":4},{"t":9.875,"v":2.2},{"t":10,"v":3},{"t":10.125,"v":2.5},{"t":10.25,"v":5},{"t":10.375,"v":3},{"t":10.5,"v":4},{"t":10.625,"v":3.5},{"t":10.75,"v":5},{"t":10.875,"v":3.5},{"t":11,"v":4.5},{"t":11.125,"v":4.5},{"t":11.25,"v":6},{"t":11.375,"v":6},{"t":11.5,"v":8.5},{"t":11.625,"v":6},{"t":11.75,"v":7},{"t":11.875,"v":7},{"t":12,"v":9},{"t":12.125,"v":4.5},{"t":12.25,"v":6},{"t":12.375,"v":2.5},{"t":12.5,"v":4},{"t":12.625,"v":2.2},{"t":12.75,"v":3},{"t":12.875,"v":2.5},{"t":13,"v":4},{"t":13.125,"v":3},{"t":13.25,"v":3.5},{"t":13.375,"v":2.2},{"t":13.5,"v":5},{"t":13.625,"v":2.5},{"t":13.75,"v":3},{"t":13.875,"v":2.2},{"t":14,"v":4},{"t":14.125,"v":2.5},{"t":14.25,"v":3},{"t":14.375,"v":3},{"t":14.5,"v":4.5},{"t":14.625,"v":2.5},{"t":14.75,"v":3.5},{"t":14.875,"v":2.2},{"t":15,"v":4},{"t":15.125,"v":2.5},{"t":15.25,"v":3},{"t":15.375,"v":2.5},{"t":15.5,"v":4},{"t":15.625,"v":2.5},{"t":15.75,"v":3.5},{"t":15.875,"v":2.2},{"t":16,"v":5},{"t":16.125,"v":2.5},{"t":16.25,"v":3},{"t":16.375,"v":2.5},{"t":16.5,"v":4},{"t":16.625,"v":2.5},{"t":16.75,"v":3.5},{"t":16.875,"v":2.2},{"t":17,"v":4.5},{"t":17.125,"v":2.5},{"t":17.25,"v":3},{"t":17.375,"v":3},{"t":17.5,"v":4},{"t":17.625,"v":3},{"t":17.75,"v":5},{"t":17.875,"v":3.5},{"t":18,"v":4},{"t":18.125,"v":4},{"t":18.25,"v":6},{"t":18.375,"v":4},{"t":18.5,"v":5.5},{"t":18.625,"v":5},{"t":18.75,"v":7},{"t":18.875,"v":6.5},{"t":19,"v":9.5},{"t":19.125,"v":5},{"t":19.25,"v":6},{"t":19.375,"v":3.5},{"t":19.5,"v":4.5},{"t":19.625,"v":2.5},{"t":19.75,"v":3.5},{"t":19.875,"v":2.2},{"t":20,"v":3},{"t":20.125,"v":2.5},{"t":20.25,"v":4},{"t":20.375,"v":2.5},{"t":20.5,"v":3.5},{"t":20.625,"v":2.5},{"t":20.75,"v":4.5},{"t":20.875,"v":2.2},{"t":21,"v":3},{"t":21.125,"v":2.5},{"t":21.25,"v":4},{"t":21.375,"v":2.2},{"t":21.5,"v":3},{"t":21.625,"v":2.2},{"t":21.75,"v":3.5},{"t":21.875,"v":2.5},{"t":22,"v":4.5},{"t":22.125,"v":2.2},{"t":22.25,"v":3},{"t":22.375,"v":2.5},{"t":22.5,"v":4},{"t":22.625,"v":2.5},{"t":22.75,"v":3.5},{"t":22.875,"v":2.2},{"t":23,"v":3},{"t":23.125,"v":2.5},{"t":23.25,"v":4},{"t":23.375,"v":2.5},{"t":23.5,"v":3.5},{"t":23.625,"v":2.8},{"t":23.75,"v":4.5},{"t":23.875,"v":3.5},{"t":24,"v":5},{"t":24.125,"v":4},{"t":24.25,"v":6},{"t":24.375,"v":3.5},{"t":24.5,"v":5},{"t":24.625,"v":2.8},{"t":24.75,"v":4},{"t":24.875,"v":2.2},{"t":25,"v":3},{"t":25.125,"v":2.5},{"t":25.25,"v":4},{"t":25.375,"v":2.5},{"t":25.5,"v":3.5},{"t":25.625,"v":2.5},{"t":25.75,"v":4},{"t":25.875,"v":2.2},{"t":26,"v":3},{"t":26.125,"v":2.5},{"t":26.25,"v":4.5},{"t":26.375,"v":3.5},{"t":26.5,"v":5},{"t":26.625,"v":4},{"t":26.75,"v":6},{"t":26.875,"v":5},{"t":27,"v":7},{"t":27.125,"v":6.5},{"t":27.25,"v":9},{"t":27.375,"v":5.5},{"t":27.5,"v":7},{"t":27.625,"v":3.5},{"t":27.75,"v":5},{"t":27.875,"v":3},{"t":28,"v":4},{"t":28.125,"v":2.5},{"t":28.25,"v":3.5},{"t":28.375,"v":2.5},{"t":28.5,"v":4},{"t":28.625,"v":2.2},{"t":28.75,"v":3},{"t":28.875,"v":2.5},{"t":29,"v":4},{"t":29.125,"v":2.5},{"t":29.25,"v":3.5},{"t":29.375,"v":2.5},{"t":29.5,"v":4.5},{"t":29.625,"v":2.5},{"t":29.75,"v":3},{"t":29.875,"v":2.2},{"t":30,"v":4},{"t":30.125,"v":2.5},{"t":30.25,"v":3.5},{"t":30.375,"v":2.5},{"t":30.5,"v":4},{"t":30.625,"v":2.5},{"t":30.75,"v":3},{"t":30.875,"v":2.2},{"t":31,"v":4.5},{"t":31.125,"v":2.5},{"t":31.25,"v":3.5},{"t":31.375,"v":2.5},{"t":31.5,"v":4}],
"c7":[{"t":0,"v":1.8},{"t":0.125,"v":1.3},{"t":0.25,"v":2},{"t":0.375,"v":1.2},{"t":0.5,"v":1.5},{"t":0.625,"v":1.4},{"t":0.75,"v":2.2},{"t":0.875,"v":1.4},{"t":1,"v":1.8},{"t":1.125,"v":1.3},{"t":1.25,"v":2},{"t":1.375,"v":1.2},{"t":1.5,"v":1.5},{"t":1.625,"v":1.3},{"t":1.75,"v":2.3},{"t":1.875,"v":1.4},{"t":2,"v":1.8},{"t":2.125,"v":1.3},{"t":2.25,"v":2},{"t":2.375,"v":1.1},{"t":2.5,"v":1.5},{"t":2.625,"v":1.2},{"t":2.75,"v":1.8},{"t":2.875,"v":1},{"t":3,"v":1.3},{"t":3.125,"v":1.1},{"t":3.25,"v":2},{"t":3.375,"v":1.2},{"t":3.5,"v":1.6},{"t":3.625,"v":1.1},{"t":3.75,"v":1.4},{"t":3.875,"v":1.1},{"t":4,"v":2},{"t":4.125,"v":1.3},{"t":4.25,"v":1.8},{"t":4.375,"v":1.4},{"t":4.5,"v":2.2},{"t":4.625,"v":1.2},{"t":4.75,"v":1.6},{"t":4.875,"v":1.3},{"t":5,"v":2},{"t":5.125,"v":1.2},{"t":5.25,"v":1.5},{"t":5.375,"v":1.2},{"t":5.5,"v":1.8},{"t":5.625,"v":1.1},{"t":5.75,"v":1.5},{"t":5.875,"v":1.2},{"t":6,"v":1.8},{"t":6.125,"v":1.1},{"t":6.25,"v":1.4},{"t":6.375,"v":1.2},{"t":6.5,"v":2},{"t":6.625,"v":1.2},{"t":6.75,"v":1.6},{"t":6.875,"v":1.2},{"t":7,"v":1.8},{"t":7.125,"v":1.1},{"t":7.25,"v":1.5},{"t":7.375,"v":1.3},{"t":7.5,"v":2.2},{"t":7.625,"v":1.4},{"t":7.75,"v":1.7},{"t":7.875,"v":1.3},{"t":8,"v":2},{"t":8.125,"v":1.4},{"t":8.25,"v":1.8},{"t":8.375,"v":1.6},{"t":8.5,"v":2.4},{"t":8.625,"v":1.5},{"t":8.75,"v":2},{"t":8.875,"v":1.7},{"t":9,"v":2.5},{"t":9.125,"v":1.6},{"t":9.25,"v":2.2},{"t":9.375,"v":1.4},{"t":9.5,"v":1.8},{"t":9.625,"v":1.6},{"t":9.75,"v":2.8},{"t":9.875,"v":1.9},{"t":10,"v":2.4},{"t":10.125,"v":2.2},{"t":10.25,"v":3},{"t":10.375,"v":2.4},{"t":10.5,"v":3.5},{"t":10.625,"v":2.3},{"t":10.75,"v":2.8},{"t":10.875,"v":2.5},{"t":11,"v":4},{"t":11.125,"v":2.6},{"t":11.25,"v":3.2},{"t":11.375,"v":2.7},{"t":11.5,"v":3.8},{"t":11.625,"v":2.3},{"t":11.75,"v":2.8},{"t":11.875,"v":2.2},{"t":12,"v":3.5},{"t":12.125,"v":1.8},{"t":12.25,"v":2.2},{"t":12.375,"v":1.7},{"t":12.5,"v":2.5},{"t":12.625,"v":2},{"t":12.75,"v":2.8},{"t":12.875,"v":2.1},{"t":13,"v":3.2},{"t":13.125,"v":1.9},{"t":13.25,"v":2.5},{"t":13.375,"v":2.5},{"t":13.5,"v":3.5},{"t":13.625,"v":3},{"t":13.75,"v":4},{"t":13.875,"v":2.2},{"t":14,"v":3.5},{"t":14.125,"v":1.9},{"t":14.25,"v":2.5},{"t":14.375,"v":1.8},{"t":14.5,"v":2.8},{"t":14.625,"v":1.8},{"t":14.75,"v":2.2},{"t":14.875,"v":2.1},{"t":15,"v":3},{"t":15.125,"v":2},{"t":15.25,"v":2.5},{"t":15.375,"v":2.2},{"t":15.5,"v":2.8},{"t":15.625,"v":2.5},{"t":15.75,"v":3.5},{"t":15.875,"v":2.6},{"t":16,"v":3},{"t":16.125,"v":3.2},{"t":16.25,"v":4},{"t":16.375,"v":3.8},{"t":16.5,"v":4.8},{"t":16.625,"v":2.8},{"t":16.75,"v":3.5},{"t":16.875,"v":2.3},{"t":17,"v":3},{"t":17.125,"v":2.6},{"t":17.25,"v":3.5},{"t":17.375,"v":3.2},{"t":17.5,"v":4.5},{"t":17.625,"v":3.2},{"t":17.75,"v":4},{"t":17.875,"v":3.6},{"t":18,"v":5.2},{"t":18.125,"v":3.8},{"t":18.25,"v":4.5},{"t":18.375,"v":4},{"t":18.5,"v":5.5},{"t":18.625,"v":4.5},{"t":18.75,"v":6},{"t":18.875,"v":4.3},{"t":19,"v":5},{"t":19.125,"v":4.2},{"t":19.25,"v":6.5},{"t":19.375,"v":4},{"t":19.5,"v":4.5},{"t":19.625,"v":2.8},{"t":19.75,"v":3.5},{"t":19.875,"v":2.4},{"t":20,"v":3},{"t":20.125,"v":2},{"t":20.25,"v":2.5},{"t":20.375,"v":2.2},{"t":20.5,"v":3.2},{"t":20.625,"v":2.2},{"t":20.75,"v":2.8},{"t":20.875,"v":2.5},{"t":21,"v":3.5},{"t":21.125,"v":2.8},{"t":21.25,"v":4},{"t":21.375,"v":3.2},{"t":21.5,"v":4.5},{"t":21.625,"v":2.8},{"t":21.75,"v":3.5},{"t":21.875,"v":2.8},{"t":22,"v":4},{"t":22.125,"v":2.4},{"t":22.25,"v":3},{"t":22.375,"v":2.5},{"t":22.5,"v":3.5},{"t":22.625,"v":2.2},{"t":22.75,"v":2.8},{"t":22.875,"v":2.3},{"t":23,"v":3.2},{"t":23.125,"v":2},{"t":23.25,"v":2.5},{"t":23.375,"v":2.1},{"t":23.5,"v":3},{"t":23.625,"v":2.2},{"t":23.75,"v":3.5},{"t":23.875,"v":2.3},{"t":24,"v":3},{"t":24.125,"v":2.5},{"t":24.25,"v":3.8},{"t":24.375,"v":2.6},{"t":24.5,"v":3.5},{"t":24.625,"v":2.2},{"t":24.75,"v":2.8},{"t":24.875,"v":2.3},{"t":25,"v":3.2},{"t":25.125,"v":2.6},{"t":25.25,"v":3.5},{"t":25.375,"v":2.3},{"t":25.5,"v":3},{"t":25.625,"v":2.5},{"t":25.75,"v":3.8},{"t":25.875,"v":2.7},{"t":26,"v":3.5},{"t":26.125,"v":3},{"t":26.25,"v":4.2},{"t":26.375,"v":3.2},{"t":26.5,"v":4.8},{"t":26.625,"v":3.3},{"t":26.75,"v":4},{"t":26.875,"v":3.5},{"t":27,"v":4.5},{"t":27.125,"v":3.8},{"t":27.25,"v":5},{"t":27.375,"v":3.5},{"t":27.5,"v":4},{"t":27.625,"v":3},{"t":27.75,"v":3.5},{"t":27.875,"v":2.5},{"t":28,"v":3},{"t":28.125,"v":2.6},{"t":28.25,"v":3.5},{"t":28.375,"v":2.5},{"t":28.5,"v":3.2},{"t":28.625,"v":2.6},{"t":28.75,"v":3.8},{"t":28.875,"v":2.8},{"t":29,"v":4.2},{"t":29.125,"v":3},{"t":29.25,"v":3.5},{"t":29.375,"v":2.8},{"t":29.5,"v":4.5},{"t":29.625,"v":3.1},{"t":29.75,"v":3.8},{"t":29.875,"v":2.7},{"t":30,"v":3.2},{"t":30.125,"v":2.6},{"t":30.25,"v":3.5},{"t":30.375,"v":2.8},{"t":30.5,"v":3.8},{"t":30.625,"v":2.5},{"t":30.75,"v":3},{"t":30.875,"v":2.5},{"t":31,"v":3.5},{"t":31.125,"v":2.2},{"t":31.25,"v":2.8},{"t":31.375,"v":2.3},{"t":31.5,"v":3.2}],
"c8":[{"t":0,"v":3},{"t":0.125,"v":2.2},{"t":0.25,"v":4.5},{"t":0.375,"v":2.5},{"t":0.5,"v":3.5},{"t":0.625,"v":2},{"t":0.75,"v":2.5},{"t":0.875,"v":1.8},{"t":1,"v":4},{"t":1.125,"v":2.5},{"t":1.25,"v":3},{"t":1.375,"v":2.2},{"t":1.5,"v":3.5},{"t":1.625,"v":1.8},{"t":1.75,"v":2.5},{"t":1.875,"v":1.8},{"t":2,"v":3},{"t":2.125,"v":2},{"t":2.25,"v":2.8},{"t":2.375,"v":2},{"t":2.5,"v":3.2},{"t":2.625,"v":1.8},{"t":2.75,"v":2.5},{"t":2.875,"v":1.8},{"t":3,"v":3},{"t":3.125,"v":1.6},{"t":3.25,"v":2.2},{"t":3.375,"v":1.6},{"t":3.5,"v":3.5},{"t":3.625,"v":1.8},{"t":3.75,"v":2.5},{"t":3.875,"v":1.8},{"t":4,"v":3},{"t":4.125,"v":2},{"t":4.25,"v":5},{"t":4.375,"v":2.2},{"t":4.5,"v":3},{"t":4.625,"v":2},{"t":4.75,"v":2.5},{"t":4.875,"v":1.8},{"t":5,"v":4.5},{"t":5.125,"v":2.2},{"t":5.25,"v":3},{"t":5.375,"v":1.8},{"t":5.5,"v":2.5},{"t":5.625,"v":2},{"t":5.75,"v":3},{"t":5.875,"v":2.2},{"t":6,"v":5},{"t":6.125,"v":2.5},{"t":6.25,"v":3.5},{"t":6.375,"v":2.2},{"t":6.5,"v":2.8},{"t":6.625,"v":2},{"t":6.75,"v":4},{"t":6.875,"v":2.5},{"t":7,"v":3},{"t":7.125,"v":2.2},{"t":7.25,"v":5.5},{"t":7.375,"v":2.5},{"t":7.5,"v":3},{"t":7.625,"v":2.5},{"t":7.75,"v":4},{"t":7.875,"v":2.8},{"t":8,"v":3.5},{"t":8.125,"v":2.2},{"t":8.25,"v":4.5},{"t":8.375,"v":2.5},{"t":8.5,"v":3},{"t":8.625,"v":2.5},{"t":8.75,"v":5},{"t":8.875,"v":2.8},{"t":9,"v":3.5},{"t":9.125,"v":2.8},{"t":9.25,"v":4},{"t":9.375,"v":3},{"t":9.5,"v":6},{"t":9.625,"v":3},{"t":9.75,"v":4.5},{"t":9.875,"v":3.5},{"t":10,"v":5},{"t":10.125,"v":3.8},{"t":10.25,"v":7},{"t":10.375,"v":4},{"t":10.5,"v":5},{"t":10.625,"v":3.8},{"t":10.75,"v":6},{"t":10.875,"v":3.5},{"t":11,"v":4.5},{"t":11.125,"v":4.5},{"t":11.25,"v":7},{"t":11.375,"v":6},{"t":11.5,"v":9},{"t":11.625,"v":6.5},{"t":11.75,"v":8},{"t":11.875,"v":7},{"t":12,"v":10.5},{"t":12.125,"v":5},{"t":12.25,"v":7},{"t":12.375,"v":3},{"t":12.5,"v":5},{"t":12.625,"v":2.2},{"t":12.75,"v":3},{"t":12.875,"v":2.5},{"t":13,"v":4},{"t":13.125,"v":2.8},{"t":13.25,"v":3.5},{"t":13.375,"v":3},{"t":13.5,"v":6},{"t":13.625,"v":3},{"t":13.75,"v":4},{"t":13.875,"v":2.5},{"t":14,"v":5},{"t":14.125,"v":2.2},{"t":14.25,"v":3},{"t":14.375,"v":2.5},{"t":14.5,"v":4.5},{"t":14.625,"v":2.8},{"t":14.75,"v":3.5},{"t":14.875,"v":3},{"t":15,"v":6},{"t":15.125,"v":2.8},{"t":15.25,"v":4},{"t":15.375,"v":2.8},{"t":15.5,"v":3.5},{"t":15.625,"v":3},{"t":15.75,"v":5},{"t":15.875,"v":3},{"t":16,"v":4},{"t":16.125,"v":2.8},{"t":16.25,"v":6},{"t":16.375,"v":2.8},{"t":16.5,"v":3.5},{"t":16.625,"v":2.8},{"t":16.75,"v":5},{"t":16.875,"v":3},{"t":17,"v":4},{"t":17.125,"v":3.2},{"t":17.25,"v":4.5},{"t":17.375,"v":3.5},{"t":17.5,"v":6},{"t":17.625,"v":3.8},{"t":17.75,"v":5},{"t":17.875,"v":4},{"t":18,"v":7},{"t":18.125,"v":4.5},{"t":18.25,"v":5.5},{"t":18.375,"v":4.5},{"t":18.5,"v":8},{"t":18.625,"v":6},{"t":18.75,"v":9},{"t":18.875,"v":7},{"t":19,"v":10},{"t":19.125,"v":6},{"t":19.25,"v":7},{"t":19.375,"v":4},{"t":19.5,"v":5},{"t":19.625,"v":3},{"t":19.75,"v":4},{"t":19.875,"v":2.8},{"t":20,"v":3.5},{"t":20.125,"v":2.5},{"t":20.25,"v":5},{"t":20.375,"v":2.5},{"t":20.5,"v":3},{"t":20.625,"v":2.8},{"t":20.75,"v":4.5},{"t":20.875,"v":2.8},{"t":21,"v":3.5},{"t":21.125,"v":2.8},{"t":21.25,"v":4},{"t":21.375,"v":2.5},{"t":21.5,"v":3},{"t":21.625,"v":2.5},{"t":21.75,"v":5},{"t":21.875,"v":2.8},{"t":22,"v":3.5},{"t":22.125,"v":2.5},{"t":22.25,"v":4},{"t":22.375,"v":2.8},{"t":22.5,"v":3},{"t":22.625,"v":2.8},{"t":22.75,"v":5.5},{"t":22.875,"v":2.8},{"t":23,"v":3.5},{"t":23.125,"v":2.5},{"t":23.25,"v":4.5},{"t":23.375,"v":2.5},{"t":23.5,"v":3},{"t":23.625,"v":2.8},{"t":23.75,"v":5},{"t":23.875,"v":4},{"t":24,"v":6},{"t":24.125,"v":5},{"t":24.25,"v":8},{"t":24.375,"v":5},{"t":24.5,"v":7},{"t":24.625,"v":3.5},{"t":24.75,"v":5},{"t":24.875,"v":2.8},{"t":25,"v":4},{"t":25.125,"v":3},{"t":25.25,"v":3.5},{"t":25.375,"v":3},{"t":25.5,"v":5},{"t":25.625,"v":3.5},{"t":25.75,"v":4},{"t":25.875,"v":3.5},{"t":26,"v":6},{"t":26.125,"v":4.5},{"t":26.25,"v":5},{"t":26.375,"v":5.5},{"t":26.5,"v":7},{"t":26.625,"v":7},{"t":26.75,"v":9},{"t":26.875,"v":9},{"t":27,"v":12},{"t":27.125,"v":12},{"t":27.25,"v":18},{"t":27.375,"v":8},{"t":27.5,"v":10},{"t":27.625,"v":4.5},{"t":27.75,"v":6},{"t":27.875,"v":3.5},{"t":28,"v":4.5},{"t":28.125,"v":3},{"t":28.25,"v":4},{"t":28.375,"v":2.8},{"t":28.5,"v":3.5},{"t":28.625,"v":2.8},{"t":28.75,"v":4},{"t":28.875,"v":2.5},{"t":29,"v":3},{"t":29.125,"v":2.5},{"t":29.25,"v":5},{"t":29.375,"v":3},{"t":29.5,"v":3.5},{"t":29.625,"v":2.8},{"t":29.75,"v":4.5},{"t":29.875,"v":2.5},{"t":30,"v":3},{"t":30.125,"v":2.5},{"t":30.25,"v":4},{"t":30.375,"v":2.8},{"t":30.5,"v":3.5},{"t":30.625,"v":2.5},{"t":30.75,"v":5},{"t":30.875,"v":2.5},{"t":31,"v":3},{"t":31.125,"v":2.5},{"t":31.25,"v":4},{"t":31.375,"v":2.8},{"t":31.5,"v":3.5}],
"c9":[{"t":0,"v":2.5},{"t":0.125,"v":1.8},{"t":0.25,"v":3},{"t":0.375,"v":1.5},{"t":0.5,"v":2},{"t":0.625,"v":1.8},{"t":0.75,"v":3.5},{"t":0.875,"v":1.8},{"t":1,"v":2.5},{"t":1.125,"v":1.5},{"t":1.25,"v":2},{"t":1.375,"v":1.6},{"t":1.5,"v":3},{"t":1.625,"v":1.8},{"t":1.75,"v":2.5},{"t":1.875,"v":2},{"t":2,"v":3.5},{"t":2.125,"v":2.2},{"t":2.25,"v":2.8},{"t":2.375,"v":2},{"t":2.5,"v":2.5},{"t":2.625,"v":2},{"t":2.75,"v":3},{"t":2.875,"v":1.8},{"t":3,"v":2.2},{"t":3.125,"v":2},{"t":3.25,"v":3.5},{"t":3.375,"v":2.5},{"t":3.5,"v":3},{"t":3.625,"v":2.5},{"t":3.75,"v":4},{"t":3.875,"v":2.5},{"t":4,"v":3},{"t":4.125,"v":2.5},{"t":4.25,"v":6},{"t":4.375,"v":3},{"t":4.5,"v":3.5},{"t":4.625,"v":3},{"t":4.75,"v":4.5},{"t":4.875,"v":2.5},{"t":5,"v":3},{"t":5.125,"v":2.5},{"t":5.25,"v":4},{"t":5.375,"v":2.8},{"t":5.5,"v":3.5},{"t":5.625,"v":2.5},{"t":5.75,"v":3},{"t":5.875,"v":2.5},{"t":6,"v":4},{"t":6.125,"v":2.5},{"t":6.25,"v":3.5},{"t":6.375,"v":3},{"t":6.5,"v":5},{"t":6.625,"v":2.8},{"t":6.75,"v":3.5},{"t":6.875,"v":2.8},{"t":7,"v":4},{"t":7.125,"v":2.5},{"t":7.25,"v":3},{"t":7.375,"v":3},{"t":7.5,"v":5.5},{"t":7.625,"v":3},{"t":7.75,"v":4},{"t":7.875,"v":3.5},{"t":8,"v":4.5},{"t":8.125,"v":3.5},{"t":8.25,"v":5},{"t":8.375,"v":3},{"t":8.5,"v":4},{"t":8.625,"v":3.5},{"t":8.75,"v":5.5},{"t":8.875,"v":3.5},{"t":9,"v":4.5},{"t":9.125,"v":4},{"t":9.25,"v":6},{"t":9.375,"v":4},{"t":9.5,"v":5},{"t":9.625,"v":4.5},{"t":9.75,"v":7},{"t":9.875,"v":5},{"t":10,"v":6},{"t":10.125,"v":5.5},{"t":10.25,"v":8.5},{"t":10.375,"v":6},{"t":10.5,"v":7},{"t":10.625,"v":6},{"t":10.75,"v":9},{"t":10.875,"v":6.5},{"t":11,"v":8},{"t":11.125,"v":7},{"t":11.25,"v":10},{"t":11.375,"v":9},{"t":11.5,"v":13},{"t":11.625,"v":11},{"t":11.75,"v":16},{"t":11.875,"v":14},{"t":12,"v":20},{"t":12.125,"v":13},{"t":12.25,"v":17},{"t":12.375,"v":7},{"t":12.5,"v":10},{"t":12.625,"v":3.5},{"t":12.75,"v":5},{"t":12.875,"v":4},{"t":13,"v":6},{"t":13.125,"v":3.5},{"t":13.25,"v":4.5},{"t":13.375,"v":4},{"t":13.5,"v":7},{"t":13.625,"v":3.8},{"t":13.75,"v":5},{"t":13.875,"v":3.5},{"t":14,"v":5.5},{"t":14.125,"v":3.5},{"t":14.25,"v":4},{"t":14.375,"v":4},{"t":14.5,"v":6.5},{"t":14.625,"v":4},{"t":14.75,"v":5},{"t":14.875,"v":4},{"t":15,"v":7},{"t":15.125,"v":3.5},{"t":15.25,"v":4.5},{"t":15.375,"v":4},{"t":15.5,"v":5},{"t":15.625,"v":4.5},{"t":15.75,"v":7.5},{"t":15.875,"v":5},{"t":16,"v":5.5},{"t":16.125,"v":4.5},{"t":16.25,"v":8},{"t":16.375,"v":5},{"t":16.5,"v":6},{"t":16.625,"v":4.5},{"t":16.75,"v":7},{"t":16.875,"v":4.5},{"t":17,"v":5.5},{"t":17.125,"v":4.5},{"t":17.25,"v":6},{"t":17.375,"v":5.5},{"t":17.5,"v":8},{"t":17.625,"v":5.5},{"t":17.75,"v":7},{"t":17.875,"v":6},{"t":18,"v":9},{"t":18.125,"v":7},{"t":18.25,"v":8},{"t":18.375,"v":7},{"t":18.5,"v":10},{"t":18.625,"v":8},{"t":18.75,"v":12},{"t":18.875,"v":10},{"t":19,"v":14},{"t":19.125,"v":9},{"t":19.25,"v":11},{"t":19.375,"v":6.5},{"t":19.5,"v":8},{"t":19.625,"v":5},{"t":19.75,"v":6},{"t":19.875,"v":4},{"t":20,"v":5},{"t":20.125,"v":4},{"t":20.25,"v":6.5},{"t":20.375,"v":4},{"t":20.5,"v":4.5},{"t":20.625,"v":4.5},{"t":20.75,"v":7},{"t":20.875,"v":4},{"t":21,"v":5},{"t":21.125,"v":4},{"t":21.25,"v":6},{"t":21.375,"v":3.5},{"t":21.5,"v":4.5},{"t":21.625,"v":4.5},{"t":21.75,"v":7},{"t":21.875,"v":4},{"t":22,"v":5},{"t":22.125,"v":4.5},{"t":22.25,"v":6.5},{"t":22.375,"v":4.5},{"t":22.5,"v":5},{"t":22.625,"v":4.5},{"t":22.75,"v":8},{"t":22.875,"v":5},{"t":23,"v":6},{"t":23.125,"v":5},{"t":23.25,"v":7.5},{"t":23.375,"v":5},{"t":23.5,"v":6},{"t":23.625,"v":6.5},{"t":23.75,"v":8},{"t":23.875,"v":8},{"t":24,"v":10},{"t":24.125,"v":9},{"t":24.25,"v":14},{"t":24.375,"v":12},{"t":24.5,"v":16},{"t":24.625,"v":9},{"t":24.75,"v":10},{"t":24.875,"v":6},{"t":25,"v":7},{"t":25.125,"v":4.5},{"t":25.25,"v":6},{"t":25.375,"v":4.5},{"t":25.5,"v":5.5},{"t":25.625,"v":5},{"t":25.75,"v":7},{"t":25.875,"v":5},{"t":26,"v":6},{"t":26.125,"v":6},{"t":26.25,"v":8},{"t":26.375,"v":6},{"t":26.5,"v":7},{"t":26.625,"v":7.5},{"t":26.75,"v":10},{"t":26.875,"v":10},{"t":27,"v":13},{"t":27.125,"v":12},{"t":27.25,"v":18},{"t":27.375,"v":10},{"t":27.5,"v":12},{"t":27.625,"v":7},{"t":27.75,"v":8},{"t":27.875,"v":5},{"t":28,"v":6},{"t":28.125,"v":4},{"t":28.25,"v":5},{"t":28.375,"v":4},{"t":28.5,"v":6},{"t":28.625,"v":4},{"t":28.75,"v":5},{"t":28.875,"v":4},{"t":29,"v":7},{"t":29.125,"v":4.5},{"t":29.25,"v":5.5},{"t":29.375,"v":4.5},{"t":29.5,"v":6.5},{"t":29.625,"v":4},{"t":29.75,"v":5},{"t":29.875,"v":4.5},{"t":30,"v":8},{"t":30.125,"v":5},{"t":30.25,"v":6},{"t":30.375,"v":5},{"t":30.5,"v":7},{"t":30.625,"v":4.5},{"t":30.75,"v":5.5},{"t":30.875,"v":5},{"t":31,"v":7.5},{"t":31.125,"v":5},{"t":31.25,"v":6},{"t":31.375,"v":5},{"t":31.5,"v":6.5}],
"c10":[{"t":0,"v":4},{"t":0.125,"v":2.5},{"t":0.25,"v":3},{"t":0.375,"v":2.2},{"t":0.5,"v":2.5},{"t":0.625,"v":2.2},{"t":0.75,"v":3.5},{"t":0.875,"v":2.5},{"t":1,"v":3},{"t":1.125,"v":2.5},{"t":1.25,"v":4.5},{"t":1.375,"v":2.5},{"t":1.5,"v":3},{"t":1.625,"v":2.8},{"t":1.75,"v":3.5},{"t":1.875,"v":3},{"t":2,"v":4},{"t":2.125,"v":2.5},{"t":2.25,"v":3},{"t":2.375,"v":2.5},{"t":2.5,"v":3.5},{"t":2.625,"v":3},{"t":2.75,"v":5},{"t":2.875,"v":3.5},{"t":3,"v":4},{"t":3.125,"v":4},{"t":3.25,"v":6},{"t":3.375,"v":4},{"t":3.5,"v":4.5},{"t":3.625,"v":4},{"t":3.75,"v":5},{"t":3.875,"v":5},{"t":4,"v":7},{"t":4.125,"v":5},{"t":4.25,"v":6},{"t":4.375,"v":6},{"t":4.5,"v":8},{"t":4.625,"v":5.5},{"t":4.75,"v":6.5},{"t":4.875,"v":4},{"t":5,"v":5},{"t":5.125,"v":3},{"t":5.25,"v":4},{"t":5.375,"v":2.8},{"t":5.5,"v":3.5},{"t":5.625,"v":2.8},{"t":5.75,"v":4},{"t":5.875,"v":3},{"t":6,"v":3.5},{"t":6.125,"v":3.5},{"t":6.25,"v":5},{"t":6.375,"v":3.5},{"t":6.5,"v":4},{"t":6.625,"v":4},{"t":6.75,"v":6},{"t":6.875,"v":4.5},{"t":7,"v":5},{"t":7.125,"v":5},{"t":7.25,"v":7},{"t":7.375,"v":5.5},{"t":7.5,"v":6},{"t":7.625,"v":6.5},{"t":7.75,"v":8},{"t":7.875,"v":7.5},{"t":8,"v":9.5},{"t":8.125,"v":8.5},{"t":8.25,"v":11},{"t":8.375,"v":7},{"t":8.5,"v":8},{"t":8.625,"v":5},{"t":8.75,"v":6},{"t":8.875,"v":4.5},{"t":9,"v":5},{"t":9.125,"v":4.5},{"t":9.25,"v":7},{"t":9.375,"v":4.5},{"t":9.5,"v":5.5},{"t":9.625,"v":5.5},{"t":9.75,"v":8},{"t":9.875,"v":5.5},{"t":10,"v":6.5},{"t":10.125,"v":7},{"t":10.25,"v":8},{"t":10.375,"v":8.5},{"t":10.5,"v":10},{"t":10.625,"v":10},{"t":10.75,"v":12},{"t":10.875,"v":10},{"t":11,"v":14},{"t":11.125,"v":10},{"t":11.25,"v":11},{"t":11.375,"v":12},{"t":11.5,"v":15},{"t":11.625,"v":11},{"t":11.75,"v":13},{"t":11.875,"v":12},{"t":12,"v":14},{"t":12.125,"v":9},{"t":12.25,"v":10},{"t":12.375,"v":6},{"t":12.5,"v":7},{"t":12.625,"v":5},{"t":12.75,"v":6},{"t":12.875,"v":5.5},{"t":13,"v":8},{"t":13.125,"v":6},{"t":13.25,"v":7},{"t":13.375,"v":6.5},{"t":13.5,"v":9},{"t":13.625,"v":9},{"t":13.75,"v":11},{"t":13.875,"v":8.5},{"t":14,"v":10},{"t":14.125,"v":6.5},{"t":14.25,"v":8},{"t":14.375,"v":5},{"t":14.5,"v":6},{"t":14.625,"v":5.5},{"t":14.75,"v":7},{"t":14.875,"v":4.5},{"t":15,"v":5},{"t":15.125,"v":4.5},{"t":15.25,"v":6},{"t":15.375,"v":4.5},{"t":15.5,"v":5},{"t":15.625,"v":5.5},{"t":15.75,"v":7},{"t":15.875,"v":6},{"t":16,"v":6},{"t":16.125,"v":8},{"t":16.25,"v":8},{"t":16.375,"v":7.5},{"t":16.5,"v":10},{"t":16.625,"v":6},{"t":16.75,"v":9},{"t":16.875,"v":6},{"t":17,"v":7},{"t":17.125,"v":7},{"t":17.25,"v":8},{"t":17.375,"v":8.5},{"t":17.5,"v":10},{"t":17.625,"v":10},{"t":17.75,"v":12},{"t":17.875,"v":9.5},{"t":18,"v":11},{"t":18.125,"v":10.5},{"t":18.25,"v":13},{"t":18.375,"v":11},{"t":18.5,"v":12},{"t":18.625,"v":12},{"t":18.75,"v":14},{"t":18.875,"v":13},{"t":19,"v":15},{"t":19.125,"v":11},{"t":19.25,"v":12},{"t":19.375,"v":9},{"t":19.5,"v":10},{"t":19.625,"v":7},{"t":19.75,"v":8},{"t":19.875,"v":6},{"t":20,"v":7},{"t":20.125,"v":7},{"t":20.25,"v":9},{"t":20.375,"v":8.5},{"t":20.5,"v":10},{"t":20.625,"v":7},{"t":20.75,"v":8},{"t":20.875,"v":6},{"t":21,"v":7},{"t":21.125,"v":5},{"t":21.25,"v":6},{"t":21.375,"v":6},{"t":21.5,"v":8},{"t":21.625,"v":6},{"t":21.75,"v":7},{"t":21.875,"v":7},{"t":22,"v":9},{"t":22.125,"v":7},{"t":22.25,"v":8},{"t":22.375,"v":6},{"t":22.5,"v":7},{"t":22.625,"v":7.5},{"t":22.75,"v":9},{"t":22.875,"v":8.5},{"t":23,"v":10},{"t":23.125,"v":9},{"t":23.25,"v":12},{"t":23.375,"v":9.5},{"t":23.5,"v":11},{"t":23.625,"v":10},{"t":23.75,"v":13},{"t":23.875,"v":10},{"t":24,"v":12},{"t":24.125,"v":8.5},{"t":24.25,"v":10},{"t":24.375,"v":7},{"t":24.5,"v":8},{"t":24.625,"v":6},{"t":24.75,"v":7},{"t":24.875,"v":5},{"t":25,"v":6},{"t":25.125,"v":5.5},{"t":25.25,"v":8},{"t":25.375,"v":6.5},{"t":25.5,"v":7},{"t":25.625,"v":6},{"t":25.75,"v":8},{"t":25.875,"v":6.5},{"t":26,"v":7},{"t":26.125,"v":7},{"t":26.25,"v":9},{"t":26.375,"v":8},{"t":26.5,"v":10},{"t":26.625,"v":9},{"t":26.75,"v":12},{"t":26.875,"v":10.5},{"t":27,"v":14},{"t":27.125,"v":11.5},{"t":27.25,"v":13},{"t":27.375,"v":11},{"t":27.5,"v":11},{"t":27.625,"v":9},{"t":27.75,"v":9},{"t":27.875,"v":8},{"t":28,"v":10},{"t":28.125,"v":8.5},{"t":28.25,"v":12},{"t":28.375,"v":9.5},{"t":28.5,"v":11},{"t":28.625,"v":9},{"t":28.75,"v":9},{"t":28.875,"v":8},{"t":29,"v":8},{"t":29.125,"v":7},{"t":29.25,"v":7},{"t":29.375,"v":7},{"t":29.5,"v":9},{"t":29.625,"v":6.5},{"t":29.75,"v":8},{"t":29.875,"v":6},{"t":30,"v":10},{"t":30.125,"v":7},{"t":30.25,"v":9},{"t":30.375,"v":7},{"t":30.5,"v":8},{"t":30.625,"v":6},{"t":30.75,"v":7},{"t":30.875,"v":6.5},{"t":31,"v":9},{"t":31.125,"v":7},{"t":31.25,"v":8},{"t":31.375,"v":7},{"t":31.5,"v":9}],
"c11":[{"t":0,"v":10.5},{"t":0.25,"v":9},{"t":0.5,"v":8.5},{"t":0.75,"v":9},{"t":1,"v":8},{"t":1.25,"v":8.5},{"t":1.5,"v":9},{"t":1.75,"v":8},{"t":2,"v":8.5},{"t":2.25,"v":9},{"t":2.5,"v":8.5},{"t":2.75,"v":9},{"t":3,"v":8},{"t":3.25,"v":8.5},{"t":3.5,"v":9},{"t":3.75,"v":8},{"t":4,"v":8.5},{"t":4.25,"v":8},{"t":4.5,"v":8.5},{"t":4.75,"v":8},{"t":5,"v":9},{"t":5.25,"v":8.5},{"t":5.5,"v":8.5},{"t":5.75,"v":9},{"t":6,"v":10},{"t":6.25,"v":11},{"t":6.5,"v":12},{"t":6.75,"v":13},{"t":7,"v":11.5},{"t":7.25,"v":10.5},{"t":7.5,"v":11},{"t":7.75,"v":10},{"t":8,"v":9.5},{"t":8.25,"v":9},{"t":8.5,"v":8.5},{"t":8.75,"v":9},{"t":9,"v":8.5},{"t":9.25,"v":8},{"t":9.5,"v":8.5},{"t":9.75,"v":8},{"t":10,"v":8.5},{"t":10.25,"v":8},{"t":10.5,"v":7.5},{"t":10.75,"v":8},{"t":11,"v":7},{"t":11.25,"v":6.5},{"t":11.5,"v":6},{"t":11.75,"v":5},{"t":12,"v":3},{"t":12.25,"v":1.5},{"t":12.5,"v":1},{"t":12.75,"v":6},{"t":13,"v":12},{"t":13.25,"v":11.5},{"t":13.5,"v":11},{"t":13.75,"v":11.5},{"t":14,"v":11},{"t":14.25,"v":10},{"t":14.5,"v":10.5},{"t":14.75,"v":10},{"t":15,"v":9.5},{"t":15.25,"v":10},{"t":15.5,"v":9},{"t":15.75,"v":9.5},{"t":16,"v":9},{"t":16.25,"v":8.5},{"t":16.5,"v":9},{"t":16.75,"v":8.5},{"t":17,"v":8},{"t":17.25,"v":8.5},{"t":17.5,"v":8},{"t":17.75,"v":7.5},{"t":18,"v":8},{"t":18.25,"v":7},{"t":18.5,"v":7.5},{"t":18.75,"v":6},{"t":19,"v":5},{"t":19.25,"v":3},{"t":19.5,"v":2},{"t":19.75,"v":1},{"t":20,"v":4},{"t":20.25,"v":8.5},{"t":20.5,"v":9},{"t":20.75,"v":8.5},{"t":21,"v":9},{"t":21.25,"v":9.5},{"t":21.5,"v":9},{"t":21.75,"v":8.5},{"t":22,"v":9},{"t":22.25,"v":9.5},{"t":22.5,"v":8.5},{"t":22.75,"v":9},{"t":23,"v":8.5},{"t":23.25,"v":8},{"t":23.5,"v":8.5},{"t":23.75,"v":8},{"t":24,"v":8.5},{"t":24.25,"v":8},{"t":24.5,"v":7.5},{"t":24.75,"v":8},{"t":25,"v":7},{"t":25.25,"v":8},{"t":25.5,"v":8.5},{"t":25.75,"v":8},{"t":26,"v":8.5},{"t":26.25,"v":8},{"t":26.5,"v":7.5},{"t":26.75,"v":7},{"t":27,"v":6},{"t":27.25,"v":5},{"t":27.5,"v":3.5},{"t":27.75,"v":2},{"t":28,"v":4},{"t":28.25,"v":7},{"t":28.5,"v":7.5},{"t":28.75,"v":7},{"t":29,"v":7.5},{"t":29.25,"v":8},{"t":29.5,"v":7.5},{"t":29.75,"v":7},{"t":30,"v":8},{"t":30.25,"v":7.5},{"t":30.5,"v":8},{"t":30.75,"v":8.5},{"t":31,"v":8},{"t":31.25,"v":9},{"t":31.5,"v":12}],
"c12":[{"t":0,"v":0.4},{"t":0.125,"v":0.2},{"t":0.25,"v":0.3},{"t":0.375,"v":0.25},{"t":0.5,"v":0.5},{"t":0.625,"v":0.2},{"t":0.75,"v":0.3},{"t":0.875,"v":0.2},{"t":1,"v":0.4},{"t":1.125,"v":0.3},{"t":1.25,"v":0.6},{"t":1.375,"v":0.2},{"t":1.5,"v":0.3},{"t":1.625,"v":0.2},{"t":1.75,"v":0.4},{"t":1.875,"v":0.3},{"t":2,"v":0.5},{"t":2.125,"v":0.2},{"t":2.25,"v":0.3},{"t":2.375,"v":0.2},{"t":2.5,"v":0.5},{"t":2.625,"v":0.2},{"t":2.75,"v":0.3},{"t":2.875,"v":0.25},{"t":3,"v":0.6},{"t":3.125,"v":0.3},{"t":3.25,"v":0.4},{"t":3.375,"v":0.25},{"t":3.5,"v":0.5},{"t":3.625,"v":0.2},{"t":3.75,"v":0.3},{"t":3.875,"v":0.3},{"t":4,"v":0.7},{"t":4.125,"v":0.3},{"t":4.25,"v":0.4},{"t":4.375,"v":0.2},{"t":4.5,"v":0.5},{"t":4.625,"v":0.2},{"t":4.75,"v":0.3},{"t":4.875,"v":0.25},{"t":5,"v":0.6},{"t":5.125,"v":0.3},{"t":5.25,"v":0.4},{"t":5.375,"v":0.25},{"t":5.5,"v":0.5},{"t":5.625,"v":0.2},{"t":5.75,"v":0.3},{"t":5.875,"v":0.2},{"t":6,"v":0.5},{"t":6.125,"v":0.2},{"t":6.25,"v":0.3},{"t":6.375,"v":0.2},{"t":6.5,"v":0.4},{"t":6.625,"v":0.2},{"t":6.75,"v":0.3},{"t":6.875,"v":0.2},{"t":7,"v":0.4},{"t":7.125,"v":0.2},{"t":7.25,"v":0.3},{"t":7.375,"v":0.2},{"t":7.5,"v":0.5},{"t":7.625,"v":0.2},{"t":7.75,"v":0.3},{"t":7.875,"v":0.2},{"t":8,"v":0.4},{"t":8.125,"v":0.3},{"t":8.25,"v":0.6},{"t":8.375,"v":0.3},{"t":8.5,"v":0.4},{"t":8.625,"v":0.4},{"t":8.75,"v":0.8},{"t":8.875,"v":0.3},{"t":9,"v":0.4},{"t":9.125,"v":0.35},{"t":9.25,"v":0.6},{"t":9.375,"v":0.5},{"t":9.5,"v":0.9},{"t":9.625,"v":0.4},{"t":9.75,"v":0.5},{"t":9.875,"v":0.4},{"t":10,"v":0.7},{"t":10.125,"v":0.45},{"t":10.25,"v":0.6},{"t":10.375,"v":0.5},{"t":10.5,"v":0.8},{"t":10.625,"v":0.6},{"t":10.75,"v":1.1},{"t":10.875,"v":0.55},{"t":11,"v":0.7},{"t":11.125,"v":0.6},{"t":11.25,"v":1},{"t":11.375,"v":0.6},{"t":11.5,"v":0.8},{"t":11.625,"v":0.6},{"t":11.75,"v":1},{"t":11.875,"v":0.5},{"t":12,"v":0.7},{"t":12.125,"v":0.55},{"t":12.25,"v":0.9},{"t":12.375,"v":0.4},{"t":12.5,"v":0.6},{"t":12.625,"v":0.35},{"t":12.75,"v":0.5},{"t":12.875,"v":0.4},{"t":13,"v":0.8},{"t":13.125,"v":0.4},{"t":13.25,"v":0.6},{"t":13.375,"v":0.5},{"t":13.5,"v":1},{"t":13.625,"v":0.45},{"t":13.75,"v":0.7},{"t":13.875,"v":0.4},{"t":14,"v":0.6},{"t":14.125,"v":0.4},{"t":14.25,"v":0.8},{"t":14.375,"v":0.35},{"t":14.5,"v":0.5},{"t":14.625,"v":0.45},{"t":14.75,"v":0.9},{"t":14.875,"v":0.4},{"t":15,"v":0.6},{"t":15.125,"v":0.4},{"t":15.25,"v":0.7},{"t":15.375,"v":0.45},{"t":15.5,"v":0.6},{"t":15.625,"v":0.4},{"t":15.75,"v":0.9},{"t":15.875,"v":0.4},{"t":16,"v":0.5},{"t":16.125,"v":0.4},{"t":16.25,"v":0.8},{"t":16.375,"v":0.45},{"t":16.5,"v":0.6},{"t":16.625,"v":0.4},{"t":16.75,"v":1},{"t":16.875,"v":0.5},{"t":17,"v":0.7},{"t":17.125,"v":0.45},{"t":17.25,"v":0.6},{"t":17.375,"v":0.4},{"t":17.5,"v":0.8},{"t":17.625,"v":0.5},{"t":17.75,"v":1},{"t":17.875,"v":0.6},{"t":18,"v":0.7},{"t":18.125,"v":0.55},{"t":18.25,"v":0.9},{"t":18.375,"v":0.6},{"t":18.5,"v":1.2},{"t":18.625,"v":0.8},{"t":18.75,"v":1.5},{"t":18.875,"v":1},{"t":19,"v":2.4},{"t":19.125,"v":0.9},{"t":19.25,"v":1.2},{"t":19.375,"v":0.8},{"t":19.5,"v":2.5},{"t":19.625,"v":0.9},{"t":19.75,"v":1},{"t":19.875,"v":0.5},{"t":20,"v":0.6},{"t":20.125,"v":0.4},{"t":20.25,"v":0.8},{"t":20.375,"v":0.4},{"t":20.5,"v":0.5},{"t":20.625,"v":0.35},{"t":20.75,"v":0.7},{"t":20.875,"v":0.4},{"t":21,"v":0.6},{"t":21.125,"v":0.4},{"t":21.25,"v":0.8},{"t":21.375,"v":0.4},{"t":21.5,"v":0.5},{"t":21.625,"v":0.35},{"t":21.75,"v":0.7},{"t":21.875,"v":0.4},{"t":22,"v":0.9},{"t":22.125,"v":0.5},{"t":22.25,"v":0.6},{"t":22.375,"v":0.4},{"t":22.5,"v":0.8},{"t":22.625,"v":0.4},{"t":22.75,"v":0.5},{"t":22.875,"v":0.35},{"t":23,"v":0.7},{"t":23.125,"v":0.4},{"t":23.25,"v":0.9},{"t":23.375,"v":0.5},{"t":23.5,"v":0.6},{"t":23.625,"v":0.45},{"t":23.75,"v":0.8},{"t":23.875,"v":0.5},{"t":24,"v":1},{"t":24.125,"v":0.7},{"t":24.25,"v":1.4},{"t":24.375,"v":0.9},{"t":24.5,"v":1.2},{"t":24.625,"v":0.5},{"t":24.75,"v":0.7},{"t":24.875,"v":0.4},{"t":25,"v":0.6},{"t":25.125,"v":0.4},{"t":25.25,"v":0.8},{"t":25.375,"v":0.45},{"t":25.5,"v":0.6},{"t":25.625,"v":0.45},{"t":25.75,"v":0.9},{"t":25.875,"v":0.5},{"t":26,"v":0.7},{"t":26.125,"v":0.5},{"t":26.25,"v":1},{"t":26.375,"v":0.6},{"t":26.5,"v":0.8},{"t":26.625,"v":0.6},{"t":26.75,"v":1.2},{"t":26.875,"v":0.7},{"t":27,"v":0.9},{"t":27.125,"v":0.6},{"t":27.25,"v":1},{"t":27.375,"v":0.5},{"t":27.5,"v":0.7},{"t":27.625,"v":0.4},{"t":27.75,"v":0.6},{"t":27.875,"v":0.4},{"t":28,"v":0.8},{"t":28.125,"v":0.35},{"t":28.25,"v":0.5},{"t":28.375,"v":0.4},{"t":28.5,"v":0.7},{"t":28.625,"v":0.35},{"t":28.75,"v":0.6},{"t":28.875,"v":0.4},{"t":29,"v":0.8},{"t":29.125,"v":0.4},{"t":29.25,"v":0.5},{"t":29.375,"v":0.35},{"t":29.5,"v":0.7},{"t":29.625,"v":0.45},{"t":29.75,"v":0.9},{"t":29.875,"v":0.4},{"t":30,"v":0.6},{"t":30.125,"v":0.4},{"t":30.25,"v":0.8},{"t":30.375,"v":0.35},{"t":30.5,"v":0.5},{"t":30.625,"v":0.4},{"t":30.75,"v":0.7},{"t":30.875,"v":0.5},{"t":31,"v":0.9},{"t":31.125,"v":0.4},{"t":31.25,"v":0.6},{"t":31.375,"v":0.45},{"t":31.5,"v":0.8}]
},
"columns":2,
"align":"none",
"concat":[
{
"title":{"text":"A","anchor":"start","fontSize":17,"fontWeight":"bold","offset":-2},
"spacing":6,
"vconcat":[
{"width":97.5,"height":2,"data":{"values":[]},"mark":{"type":"rule","opacity":0},"encoding":{}},
{
"width":97.5,"height":288,
"view":{"stroke":"#333","strokeWidth":1},
"data":{"name":"weights"},
"mark":{"type":"rect"},
"encoding":{
"x":{"field":"module","type":"ordinal","axis":{"title":"modules","labelAngle":0,"labelFontSize":12,"domain":false,"tickSize":-3,"labelPadding":6,"titlePadding":2,"titleFontSize":12}},
"y":{"field":"cell","type":"ordinal","axis":{"title":"cell#","values":[2,4,6,8,10,12],"labelFontSize":12,"domain":false,"tickSize":-3,"labelPadding":5,"titlePadding":2,"titleFontSize":12}},
"color":{"field":"w","type":"quantitative","scale":{"domain":[0,1],"range":["#000000","#ffffff"],"interpolate":"rgb"},"legend":{"orient":"none","legendX":105,"legendY":8,"direction":"vertical","gradientLength":288,"gradientThickness":11,"values":[0,0.5,1],"format":"~g","title":"weight","titleOrient":"right","titleAngle":270,"titleFontSize":12,"titleFontWeight":"normal","titleAnchor":"middle","labelFontSize":12,"gradientStrokeColor":"#333","gradientStrokeWidth":1,"labelOffset":4,"titlePadding":4}}
}
}
]
},
{
"title":{"text":"B","anchor":"start","fontSize":17,"fontWeight":"bold","offset":-2},
"spacing":0,
"vconcat":[
{"spacing":10,"bounds":"flush","vconcat":[
{"width":537,"height":55,"layer":[
{"data":{"name":"states"},"mark":{"type":"rect"},"encoding":{"x":{"field":"s","type":"quantitative","scale":{"domain":[0,31.5],"nice":false,"zero":false},"axis":{"domain":true,"ticks":false,"labels":false,"title":null,"domainColor":"#222"}},"x2":{"field":"e"},"fill":{"field":"state","type":"nominal","scale":{"domain":["AW","NREM","REM"],"range":["#fde3e3","#e3e3fb","#e3fbe3"]},"legend":{"orient":"none","legendX":622,"legendY":-13,"direction":"horizontal","title":null,"symbolSize":0.1,"symbolOpacity":0,"symbolStrokeWidth":0,"labelFontSize":14,"labelOffset":-15,"columnPadding":5,"labelColor":{"expr":"datum.label==='AW'?'#ff0000':datum.label==='NREM'?'#0000ff':'#22ee22'"}}}}},
{"data":{"name":"c1"},"mark":{"type":"area","color":"#000000","clip":true},"encoding":{"x":{"field":"t","type":"quantitative"},"y":{"field":"v","type":"quantitative","scale":{"domain":[0,15.7],"nice":false},"axis":{"values":[0,10],"title":null}}}}
]},
{"width":537,"height":55,"layer":[
{"data":{"name":"states"},"mark":{"type":"rect"},"encoding":{"x":{"field":"s","type":"quantitative","scale":{"domain":[0,31.5],"nice":false,"zero":false},"axis":{"domain":true,"ticks":false,"labels":false,"title":null,"domainColor":"#222"}},"x2":{"field":"e"},"fill":{"field":"state","type":"nominal","legend":null}}},
{"data":{"name":"c2"},"mark":{"type":"area","color":"#000000","clip":true},"encoding":{"x":{"field":"t","type":"quantitative"},"y":{"field":"v","type":"quantitative","scale":{"domain":[0,9.2],"nice":false},"axis":{"values":[0,5],"title":null}}}},
{"data":{"values":[{"label":"cell#2"}]},"mark":{"type":"text","align":"left","baseline":"top","dx":3,"dy":2,"fontSize":12,"color":"#111"},"encoding":{"x":{"datum":0,"type":"quantitative"},"y":{"datum":9.2,"type":"quantitative"},"text":{"field":"label"}}}
]},
{"width":537,"height":55,"layer":[
{"data":{"name":"states"},"mark":{"type":"rect"},"encoding":{"x":{"field":"s","type":"quantitative","scale":{"domain":[0,31.5],"nice":false,"zero":false},"axis":{"domain":true,"ticks":false,"labels":false,"title":null,"domainColor":"#222"}},"x2":{"field":"e"},"fill":{"field":"state","type":"nominal","legend":null}}},
{"data":{"name":"c3"},"mark":{"type":"area","color":"#000000","clip":true},"encoding":{"x":{"field":"t","type":"quantitative"},"y":{"field":"v","type":"quantitative","scale":{"domain":[0,6.5],"nice":false},"axis":{"values":[0,5],"title":null}}}}
]},
{"width":537,"height":55,"layer":[
{"data":{"name":"states"},"mark":{"type":"rect"},"encoding":{"x":{"field":"s","type":"quantitative","scale":{"domain":[0,31.5],"nice":false,"zero":false},"axis":{"domain":true,"ticks":false,"labels":false,"title":null,"domainColor":"#222"}},"x2":{"field":"e"},"fill":{"field":"state","type":"nominal","legend":null}}},
{"data":{"name":"c4"},"mark":{"type":"area","color":"#000000","clip":true},"encoding":{"x":{"field":"t","type":"quantitative"},"y":{"field":"v","type":"quantitative","scale":{"domain":[0,28.2],"nice":false},"axis":{"values":[0,10,20],"labelExpr":"datum.value==10?'':datum.label","title":null}}}},
{"data":{"values":[{"label":"cell#4"}]},"mark":{"type":"text","align":"left","baseline":"top","dx":3,"dy":2,"fontSize":12,"color":"#111"},"encoding":{"x":{"datum":0,"type":"quantitative"},"y":{"datum":28.2,"type":"quantitative"},"text":{"field":"label"}}}
]},
{"width":537,"height":55,"layer":[
{"data":{"name":"states"},"mark":{"type":"rect"},"encoding":{"x":{"field":"s","type":"quantitative","scale":{"domain":[0,31.5],"nice":false,"zero":false},"axis":{"domain":true,"ticks":false,"labels":false,"title":null,"domainColor":"#222"}},"x2":{"field":"e"},"fill":{"field":"state","type":"nominal","legend":null}}},
{"data":{"name":"c5"},"mark":{"type":"area","color":"#000000","clip":true},"encoding":{"x":{"field":"t","type":"quantitative"},"y":{"field":"v","type":"quantitative","scale":{"domain":[0,1.57],"nice":false},"axis":{"values":[0,1],"title":null}}}}
]},
{"width":537,"height":55,"layer":[
{"data":{"name":"states"},"mark":{"type":"rect"},"encoding":{"x":{"field":"s","type":"quantitative","scale":{"domain":[0,31.5],"nice":false,"zero":false},"axis":{"domain":true,"ticks":false,"labels":false,"title":null,"domainColor":"#222"}},"x2":{"field":"e"},"fill":{"field":"state","type":"nominal","legend":null}}},
{"data":{"name":"c6"},"mark":{"type":"area","color":"#000000","clip":true},"encoding":{"x":{"field":"t","type":"quantitative"},"y":{"field":"v","type":"quantitative","scale":{"domain":[0,10.6],"nice":false},"axis":{"values":[0,5,10],"labelExpr":"datum.value==5?'':datum.label","title":null}}}},
{"data":{"values":[{"label":"cell#6"}]},"mark":{"type":"text","align":"left","baseline":"top","dx":3,"dy":2,"fontSize":12,"color":"#111"},"encoding":{"x":{"datum":0,"type":"quantitative"},"y":{"datum":10.6,"type":"quantitative"},"text":{"field":"label"}}}
]},
{"width":537,"height":55,"layer":[
{"data":{"name":"states"},"mark":{"type":"rect"},"encoding":{"x":{"field":"s","type":"quantitative","scale":{"domain":[0,31.5],"nice":false,"zero":false},"axis":{"domain":true,"ticks":false,"labels":false,"title":null,"domainColor":"#222"}},"x2":{"field":"e"},"fill":{"field":"state","type":"nominal","legend":null}}},
{"data":{"name":"c7"},"mark":{"type":"area","color":"#000000","clip":true},"encoding":{"x":{"field":"t","type":"quantitative"},"y":{"field":"v","type":"quantitative","scale":{"domain":[0,7.2],"nice":false},"axis":{"values":[0,5],"title":"spikes/sec","titleY":-5,"titleFontSize":12,"titleFontWeight":"normal","titlePadding":12}}}}
]},
{"width":537,"height":55,"layer":[
{"data":{"name":"states"},"mark":{"type":"rect"},"encoding":{"x":{"field":"s","type":"quantitative","scale":{"domain":[0,31.5],"nice":false,"zero":false},"axis":{"domain":true,"ticks":false,"labels":false,"title":null,"domainColor":"#222"}},"x2":{"field":"e"},"fill":{"field":"state","type":"nominal","legend":null}}},
{"data":{"name":"c8"},"mark":{"type":"area","color":"#000000","clip":true},"encoding":{"x":{"field":"t","type":"quantitative"},"y":{"field":"v","type":"quantitative","scale":{"domain":[0,20.4],"nice":false},"axis":{"values":[0,10,20],"labelExpr":"datum.value==10?'':datum.label","title":null}}}},
{"data":{"values":[{"label":"cell#8"}]},"mark":{"type":"text","align":"left","baseline":"top","dx":3,"dy":2,"fontSize":12,"color":"#111"},"encoding":{"x":{"datum":0,"type":"quantitative"},"y":{"datum":20.4,"type":"quantitative"},"text":{"field":"label"}}}
]},
{"width":537,"height":55,"layer":[
{"data":{"name":"states"},"mark":{"type":"rect"},"encoding":{"x":{"field":"s","type":"quantitative","scale":{"domain":[0,31.5],"nice":false,"zero":false},"axis":{"domain":true,"ticks":false,"labels":false,"title":null,"domainColor":"#222"}},"x2":{"field":"e"},"fill":{"field":"state","type":"nominal","legend":null}}},
{"data":{"name":"c9"},"mark":{"type":"area","color":"#000000","clip":true},"encoding":{"x":{"field":"t","type":"quantitative"},"y":{"field":"v","type":"quantitative","scale":{"domain":[0,21.6],"nice":false},"axis":{"values":[0,10,20],"labelExpr":"datum.value==10?'':datum.label","title":null}}}}
]},
{"width":537,"height":55,"layer":[
{"data":{"name":"states"},"mark":{"type":"rect"},"encoding":{"x":{"field":"s","type":"quantitative","scale":{"domain":[0,31.5],"nice":false,"zero":false},"axis":{"domain":true,"ticks":false,"labels":false,"title":null,"domainColor":"#222"}},"x2":{"field":"e"},"fill":{"field":"state","type":"nominal","legend":null}}},
{"data":{"name":"c10"},"mark":{"type":"area","color":"#000000","clip":true},"encoding":{"x":{"field":"t","type":"quantitative"},"y":{"field":"v","type":"quantitative","scale":{"domain":[0,19],"nice":false},"axis":{"values":[0,10],"title":null}}}},
{"data":{"values":[{"label":"cell#10"}]},"mark":{"type":"text","align":"left","baseline":"top","dx":3,"dy":2,"fontSize":12,"color":"#111"},"encoding":{"x":{"datum":0,"type":"quantitative"},"y":{"datum":19,"type":"quantitative"},"text":{"field":"label"}}}
]},
{"width":537,"height":55,"layer":[
{"data":{"name":"states"},"mark":{"type":"rect"},"encoding":{"x":{"field":"s","type":"quantitative","scale":{"domain":[0,31.5],"nice":false,"zero":false},"axis":{"domain":true,"ticks":false,"labels":false,"title":null,"domainColor":"#222"}},"x2":{"field":"e"},"fill":{"field":"state","type":"nominal","legend":null}}},
{"data":{"name":"c11"},"mark":{"type":"area","color":"#000000","clip":true},"encoding":{"x":{"field":"t","type":"quantitative"},"y":{"field":"v","type":"quantitative","scale":{"domain":[0,16.7],"nice":false},"axis":{"values":[0,10],"title":null}}}}
]},
{"width":537,"height":55,"layer":[
{"data":{"name":"states"},"mark":{"type":"rect"},"encoding":{"x":{"field":"s","type":"quantitative","scale":{"domain":[0,31.5],"nice":false,"zero":false},"axis":{"domain":true,"ticks":false,"labels":false,"title":null,"domainColor":"#222"}},"x2":{"field":"e"},"fill":{"field":"state","type":"nominal","legend":null}}},
{"data":{"name":"c12"},"mark":{"type":"area","color":"#000000","clip":true},"encoding":{"x":{"field":"t","type":"quantitative"},"y":{"field":"v","type":"quantitative","scale":{"domain":[0,2.6],"nice":false},"axis":{"values":[0,1,2],"labelExpr":"datum.value==1?'':datum.label","title":null}}}},
{"data":{"values":[{"label":"cell#12"}]},"mark":{"type":"text","align":"left","baseline":"top","dx":3,"dy":2,"fontSize":12,"color":"#111"},"encoding":{"x":{"datum":0,"type":"quantitative"},"y":{"datum":2.6,"type":"quantitative"},"text":{"field":"label"}}}
]}
]},
{"width":537,"height":2,"data":{"values":[{"a":0.3,"b":5.3,"m":2.8,"label":"5 min"}]},"layer":[
{"mark":{"type":"rule","color":"#000000","strokeWidth":1.5},"encoding":{"x":{"field":"a","type":"quantitative","scale":{"domain":[0,31.5],"nice":false,"zero":false},"axis":null},"x2":{"field":"b"}}},
{"mark":{"type":"text","baseline":"middle","dy":7,"fontSize":12,"color":"#111"},"encoding":{"x":{"field":"m","type":"quantitative"},"text":{"field":"label"}}}
]}
]
}
],
"spacing":68,
"config":{
"font":"Liberation Sans",
"view":{"stroke":null},
"axis":{"grid":false,"domainColor":"#444","tickColor":"#444","labelColor":"#222","titleColor":"#222","labelFontSize":11,"titleFontSize":12,"titleFontWeight":"normal","tickSize":-4,"labelPadding":7},
"title":{"color":"#000000"},
"legend":{"labelColor":"#222"}
}
}
